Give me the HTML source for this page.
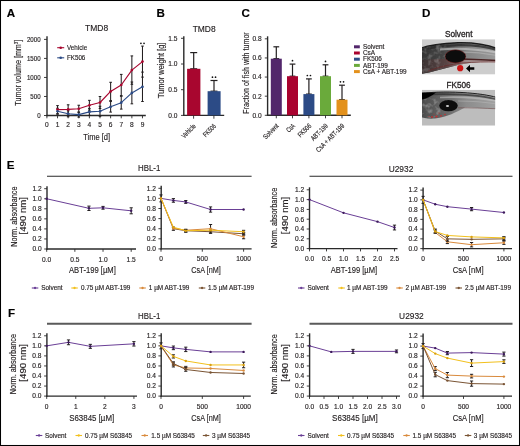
<!DOCTYPE html>
<html><head><meta charset="utf-8"><style>
html,body{margin:0;padding:0;background:#fff;}
body{width:520px;height:446px;overflow:hidden;}
svg{display:block;will-change:transform;}
text{font-family:"Liberation Sans", sans-serif;stroke:currentColor;stroke-width:0.15px;}
</style></head><body>
<svg width="520" height="446" viewBox="0 0 520 446">
<rect x="0" y="0" width="520" height="446" fill="#fff"/>
<text x="0" y="0.00" transform="translate(6.80 16.70)" font-size="11.6" text-anchor="start" fill="#000" color="#000" font-weight="bold">A</text>
<text x="0" y="0.00" transform="translate(156.40 16.80)" font-size="11.6" text-anchor="start" fill="#000" color="#000" font-weight="bold">B</text>
<text x="0" y="0.00" transform="translate(241.60 16.60)" font-size="11.6" text-anchor="start" fill="#000" color="#000" font-weight="bold">C</text>
<text x="0" y="0.00" transform="translate(422.10 16.80)" font-size="11.6" text-anchor="start" fill="#000" color="#000" font-weight="bold">D</text>
<text x="0" y="0.00" transform="translate(6.80 168.80)" font-size="11.6" text-anchor="start" fill="#000" color="#000" font-weight="bold">E</text>
<text x="0" y="0.00" transform="translate(8.00 316.80)" font-size="11.6" text-anchor="start" fill="#000" color="#000" font-weight="bold">F</text>
<text x="0" y="3.22" transform="translate(96.60 28.25)" font-size="9" text-anchor="middle" fill="#231f20" color="#231f20" textLength="23.10" lengthAdjust="spacingAndGlyphs">TMD8</text>
<line x1="47.00" y1="36.30" x2="47.00" y2="116.20" stroke="#2a2a2a" stroke-width="1.4"/>
<line x1="46.30" y1="115.50" x2="145.80" y2="115.50" stroke="#2a2a2a" stroke-width="1.4"/>
<line x1="44.00" y1="115.50" x2="47.00" y2="115.50" stroke="#2a2a2a" stroke-width="0.9"/>
<text x="0" y="2.36" transform="translate(40.60 115.50) scale(0.93 1)" font-size="6.6" text-anchor="end" fill="#231f20" color="#231f20">0</text>
<line x1="44.00" y1="96.47" x2="47.00" y2="96.47" stroke="#2a2a2a" stroke-width="0.9"/>
<text x="0" y="2.36" transform="translate(40.60 96.47) scale(0.93 1)" font-size="6.6" text-anchor="end" fill="#231f20" color="#231f20">500</text>
<line x1="44.00" y1="77.45" x2="47.00" y2="77.45" stroke="#2a2a2a" stroke-width="0.9"/>
<text x="0" y="2.36" transform="translate(40.60 77.45) scale(0.93 1)" font-size="6.6" text-anchor="end" fill="#231f20" color="#231f20">1000</text>
<line x1="44.00" y1="58.42" x2="47.00" y2="58.42" stroke="#2a2a2a" stroke-width="0.9"/>
<text x="0" y="2.36" transform="translate(40.60 58.42) scale(0.93 1)" font-size="6.6" text-anchor="end" fill="#231f20" color="#231f20">1500</text>
<line x1="44.00" y1="39.40" x2="47.00" y2="39.40" stroke="#2a2a2a" stroke-width="0.9"/>
<text x="0" y="2.36" transform="translate(40.60 39.40) scale(0.93 1)" font-size="6.6" text-anchor="end" fill="#231f20" color="#231f20">2000</text>
<line x1="46.90" y1="115.50" x2="46.90" y2="118.30" stroke="#2a2a2a" stroke-width="0.9"/>
<text x="0" y="2.36" transform="translate(46.90 124.60)" font-size="6.6" text-anchor="middle" fill="#231f20" color="#231f20">0</text>
<line x1="57.52" y1="115.50" x2="57.52" y2="118.30" stroke="#2a2a2a" stroke-width="0.9"/>
<text x="0" y="2.36" transform="translate(57.52 124.60)" font-size="6.6" text-anchor="middle" fill="#231f20" color="#231f20">1</text>
<line x1="68.14" y1="115.50" x2="68.14" y2="118.30" stroke="#2a2a2a" stroke-width="0.9"/>
<text x="0" y="2.36" transform="translate(68.14 124.60)" font-size="6.6" text-anchor="middle" fill="#231f20" color="#231f20">2</text>
<line x1="78.76" y1="115.50" x2="78.76" y2="118.30" stroke="#2a2a2a" stroke-width="0.9"/>
<text x="0" y="2.36" transform="translate(78.76 124.60)" font-size="6.6" text-anchor="middle" fill="#231f20" color="#231f20">3</text>
<line x1="89.38" y1="115.50" x2="89.38" y2="118.30" stroke="#2a2a2a" stroke-width="0.9"/>
<text x="0" y="2.36" transform="translate(89.38 124.60)" font-size="6.6" text-anchor="middle" fill="#231f20" color="#231f20">4</text>
<line x1="100.00" y1="115.50" x2="100.00" y2="118.30" stroke="#2a2a2a" stroke-width="0.9"/>
<text x="0" y="2.36" transform="translate(100.00 124.60)" font-size="6.6" text-anchor="middle" fill="#231f20" color="#231f20">5</text>
<line x1="110.62" y1="115.50" x2="110.62" y2="118.30" stroke="#2a2a2a" stroke-width="0.9"/>
<text x="0" y="2.36" transform="translate(110.62 124.60)" font-size="6.6" text-anchor="middle" fill="#231f20" color="#231f20">6</text>
<line x1="121.24" y1="115.50" x2="121.24" y2="118.30" stroke="#2a2a2a" stroke-width="0.9"/>
<text x="0" y="2.36" transform="translate(121.24 124.60)" font-size="6.6" text-anchor="middle" fill="#231f20" color="#231f20">7</text>
<line x1="131.86" y1="115.50" x2="131.86" y2="118.30" stroke="#2a2a2a" stroke-width="0.9"/>
<text x="0" y="2.36" transform="translate(131.86 124.60)" font-size="6.6" text-anchor="middle" fill="#231f20" color="#231f20">8</text>
<line x1="142.48" y1="115.50" x2="142.48" y2="118.30" stroke="#2a2a2a" stroke-width="0.9"/>
<text x="0" y="2.36" transform="translate(142.48 124.60)" font-size="6.6" text-anchor="middle" fill="#231f20" color="#231f20">9</text>
<text x="0" y="0.00" transform="translate(96.65 139.60)" font-size="9" text-anchor="middle" fill="#231f20" color="#231f20" textLength="26.90" lengthAdjust="spacingAndGlyphs">Time [d]</text>
<text x="0" y="0.00" transform="translate(21.40 72.70) rotate(-90) scale(0.8 1)" font-size="9" text-anchor="middle" fill="#231f20" color="#231f20">Tumor volume [mm<tspan font-size="5.5" dy="-3.2">3</tspan><tspan dy="3.2">]</tspan></text>
<line x1="57.52" y1="105.60" x2="57.52" y2="113.60" stroke="#231f20" stroke-width="1.05"/>
<line x1="56.22" y1="105.60" x2="58.82" y2="105.60" stroke="#231f20" stroke-width="1.05"/>
<line x1="56.22" y1="113.60" x2="58.82" y2="113.60" stroke="#231f20" stroke-width="1.05"/>
<line x1="68.14" y1="104.80" x2="68.14" y2="114.00" stroke="#231f20" stroke-width="1.05"/>
<line x1="66.84" y1="104.80" x2="69.44" y2="104.80" stroke="#231f20" stroke-width="1.05"/>
<line x1="66.84" y1="114.00" x2="69.44" y2="114.00" stroke="#231f20" stroke-width="1.05"/>
<line x1="78.76" y1="105.25" x2="78.76" y2="112.25" stroke="#231f20" stroke-width="1.05"/>
<line x1="77.46" y1="105.25" x2="80.06" y2="105.25" stroke="#231f20" stroke-width="1.05"/>
<line x1="77.46" y1="112.25" x2="80.06" y2="112.25" stroke="#231f20" stroke-width="1.05"/>
<line x1="89.38" y1="100.35" x2="89.38" y2="110.15" stroke="#231f20" stroke-width="1.05"/>
<line x1="88.08" y1="100.35" x2="90.68" y2="100.35" stroke="#231f20" stroke-width="1.05"/>
<line x1="88.08" y1="110.15" x2="90.68" y2="110.15" stroke="#231f20" stroke-width="1.05"/>
<line x1="100.00" y1="96.50" x2="100.00" y2="108.50" stroke="#231f20" stroke-width="1.05"/>
<line x1="98.70" y1="96.50" x2="101.30" y2="96.50" stroke="#231f20" stroke-width="1.05"/>
<line x1="98.70" y1="108.50" x2="101.30" y2="108.50" stroke="#231f20" stroke-width="1.05"/>
<line x1="110.62" y1="82.30" x2="110.62" y2="100.50" stroke="#231f20" stroke-width="1.05"/>
<line x1="109.32" y1="82.30" x2="111.92" y2="82.30" stroke="#231f20" stroke-width="1.05"/>
<line x1="109.32" y1="100.50" x2="111.92" y2="100.50" stroke="#231f20" stroke-width="1.05"/>
<line x1="121.24" y1="74.40" x2="121.24" y2="95.60" stroke="#231f20" stroke-width="1.05"/>
<line x1="119.94" y1="74.40" x2="122.54" y2="74.40" stroke="#231f20" stroke-width="1.05"/>
<line x1="119.94" y1="95.60" x2="122.54" y2="95.60" stroke="#231f20" stroke-width="1.05"/>
<line x1="131.86" y1="55.90" x2="131.86" y2="84.30" stroke="#231f20" stroke-width="1.05"/>
<line x1="130.56" y1="55.90" x2="133.16" y2="55.90" stroke="#231f20" stroke-width="1.05"/>
<line x1="130.56" y1="84.30" x2="133.16" y2="84.30" stroke="#231f20" stroke-width="1.05"/>
<line x1="142.48" y1="46.10" x2="142.48" y2="77.10" stroke="#231f20" stroke-width="1.05"/>
<line x1="141.18" y1="46.10" x2="143.78" y2="46.10" stroke="#231f20" stroke-width="1.05"/>
<line x1="141.18" y1="77.10" x2="143.78" y2="77.10" stroke="#231f20" stroke-width="1.05"/>
<line x1="57.52" y1="108.25" x2="57.52" y2="114.25" stroke="#231f20" stroke-width="1.05"/>
<line x1="56.22" y1="108.25" x2="58.82" y2="108.25" stroke="#231f20" stroke-width="1.05"/>
<line x1="56.22" y1="114.25" x2="58.82" y2="114.25" stroke="#231f20" stroke-width="1.05"/>
<line x1="68.14" y1="110.75" x2="68.14" y2="116.75" stroke="#231f20" stroke-width="1.05"/>
<line x1="66.84" y1="110.75" x2="69.44" y2="110.75" stroke="#231f20" stroke-width="1.05"/>
<line x1="66.84" y1="116.75" x2="69.44" y2="116.75" stroke="#231f20" stroke-width="1.05"/>
<line x1="78.76" y1="112.10" x2="78.76" y2="117.10" stroke="#231f20" stroke-width="1.05"/>
<line x1="77.46" y1="112.10" x2="80.06" y2="112.10" stroke="#231f20" stroke-width="1.05"/>
<line x1="77.46" y1="117.10" x2="80.06" y2="117.10" stroke="#231f20" stroke-width="1.05"/>
<line x1="89.38" y1="108.40" x2="89.38" y2="115.40" stroke="#231f20" stroke-width="1.05"/>
<line x1="88.08" y1="108.40" x2="90.68" y2="108.40" stroke="#231f20" stroke-width="1.05"/>
<line x1="88.08" y1="115.40" x2="90.68" y2="115.40" stroke="#231f20" stroke-width="1.05"/>
<line x1="100.00" y1="106.25" x2="100.00" y2="116.25" stroke="#231f20" stroke-width="1.05"/>
<line x1="98.70" y1="106.25" x2="101.30" y2="106.25" stroke="#231f20" stroke-width="1.05"/>
<line x1="98.70" y1="116.25" x2="101.30" y2="116.25" stroke="#231f20" stroke-width="1.05"/>
<line x1="110.62" y1="101.50" x2="110.62" y2="112.10" stroke="#231f20" stroke-width="1.05"/>
<line x1="109.32" y1="101.50" x2="111.92" y2="101.50" stroke="#231f20" stroke-width="1.05"/>
<line x1="109.32" y1="112.10" x2="111.92" y2="112.10" stroke="#231f20" stroke-width="1.05"/>
<line x1="121.24" y1="96.30" x2="121.24" y2="109.10" stroke="#231f20" stroke-width="1.05"/>
<line x1="119.94" y1="96.30" x2="122.54" y2="96.30" stroke="#231f20" stroke-width="1.05"/>
<line x1="119.94" y1="109.10" x2="122.54" y2="109.10" stroke="#231f20" stroke-width="1.05"/>
<line x1="131.86" y1="82.00" x2="131.86" y2="103.80" stroke="#231f20" stroke-width="1.05"/>
<line x1="130.56" y1="82.00" x2="133.16" y2="82.00" stroke="#231f20" stroke-width="1.05"/>
<line x1="130.56" y1="103.80" x2="133.16" y2="103.80" stroke="#231f20" stroke-width="1.05"/>
<line x1="142.48" y1="72.10" x2="142.48" y2="101.50" stroke="#231f20" stroke-width="1.05"/>
<line x1="141.18" y1="72.10" x2="143.78" y2="72.10" stroke="#231f20" stroke-width="1.05"/>
<line x1="141.18" y1="101.50" x2="143.78" y2="101.50" stroke="#231f20" stroke-width="1.05"/>
<polyline points="57.52,109.60 68.14,109.40 78.76,108.75 89.38,105.25 100.00,102.50 110.62,91.40 121.24,85.00 131.86,70.10 142.48,61.60" fill="none" stroke="#a8062f" stroke-width="1.15" stroke-linejoin="round"/>
<polyline points="57.52,111.25 68.14,113.75 78.76,114.60 89.38,111.90 100.00,111.25 110.62,106.80 121.24,102.70 131.86,92.90 142.48,86.80" fill="none" stroke="#2c4b86" stroke-width="1.15" stroke-linejoin="round"/>
<circle cx="57.52" cy="109.60" r="1.35" fill="#a8062f"/>
<circle cx="68.14" cy="109.40" r="1.35" fill="#a8062f"/>
<circle cx="78.76" cy="108.75" r="1.35" fill="#a8062f"/>
<circle cx="89.38" cy="105.25" r="1.35" fill="#a8062f"/>
<circle cx="100.00" cy="102.50" r="1.35" fill="#a8062f"/>
<circle cx="110.62" cy="91.40" r="1.35" fill="#a8062f"/>
<circle cx="121.24" cy="85.00" r="1.35" fill="#a8062f"/>
<circle cx="131.86" cy="70.10" r="1.35" fill="#a8062f"/>
<circle cx="142.48" cy="61.60" r="1.35" fill="#a8062f"/>
<circle cx="57.52" cy="111.25" r="1.35" fill="#2c4b86"/>
<circle cx="68.14" cy="113.75" r="1.35" fill="#2c4b86"/>
<circle cx="78.76" cy="114.60" r="1.35" fill="#2c4b86"/>
<circle cx="89.38" cy="111.90" r="1.35" fill="#2c4b86"/>
<circle cx="100.00" cy="111.25" r="1.35" fill="#2c4b86"/>
<circle cx="110.62" cy="106.80" r="1.35" fill="#2c4b86"/>
<circle cx="121.24" cy="102.70" r="1.35" fill="#2c4b86"/>
<circle cx="131.86" cy="92.90" r="1.35" fill="#2c4b86"/>
<circle cx="142.48" cy="86.80" r="1.35" fill="#2c4b86"/>
<circle cx="140.93" cy="43.30" r="0.85" fill="#111"/>
<circle cx="144.03" cy="43.30" r="0.85" fill="#111"/>
<line x1="57.20" y1="47.70" x2="64.20" y2="47.70" stroke="#a8062f" stroke-width="1.1"/>
<circle cx="60.70" cy="47.70" r="1.3" fill="#a8062f"/>
<line x1="57.20" y1="57.80" x2="64.20" y2="57.80" stroke="#2c4b86" stroke-width="1.1"/>
<circle cx="60.70" cy="57.80" r="1.3" fill="#2c4b86"/>
<text x="0" y="2.40" transform="translate(67.00 47.40)" font-size="6.7" text-anchor="start" fill="#231f20" color="#231f20" textLength="20.20" lengthAdjust="spacingAndGlyphs">Vehicle</text>
<text x="0" y="2.40" transform="translate(67.00 57.70)" font-size="6.7" text-anchor="start" fill="#231f20" color="#231f20" textLength="18.30" lengthAdjust="spacingAndGlyphs">FK506</text>
<text x="0" y="3.22" transform="translate(204.10 28.30)" font-size="9" text-anchor="middle" fill="#231f20" color="#231f20" textLength="22.90" lengthAdjust="spacingAndGlyphs">TMD8</text>
<line x1="183.80" y1="36.30" x2="183.80" y2="116.10" stroke="#2a2a2a" stroke-width="1.4"/>
<line x1="183.10" y1="115.40" x2="224.20" y2="115.40" stroke="#2a2a2a" stroke-width="1.4"/>
<line x1="181.00" y1="115.40" x2="183.80" y2="115.40" stroke="#2a2a2a" stroke-width="0.9"/>
<text x="0" y="2.36" transform="translate(177.40 115.40)" font-size="6.6" text-anchor="end" fill="#231f20" color="#231f20">0.0</text>
<line x1="181.00" y1="89.70" x2="183.80" y2="89.70" stroke="#2a2a2a" stroke-width="0.9"/>
<text x="0" y="2.36" transform="translate(177.40 89.70)" font-size="6.6" text-anchor="end" fill="#231f20" color="#231f20">0.5</text>
<line x1="181.00" y1="64.00" x2="183.80" y2="64.00" stroke="#2a2a2a" stroke-width="0.9"/>
<text x="0" y="2.36" transform="translate(177.40 64.00)" font-size="6.6" text-anchor="end" fill="#231f20" color="#231f20">1.0</text>
<line x1="181.00" y1="38.30" x2="183.80" y2="38.30" stroke="#2a2a2a" stroke-width="0.9"/>
<text x="0" y="2.36" transform="translate(177.40 38.30)" font-size="6.6" text-anchor="end" fill="#231f20" color="#231f20">1.5</text>
<line x1="193.70" y1="52.60" x2="193.70" y2="68.80" stroke="#231f20" stroke-width="1.2"/>
<line x1="190.20" y1="52.60" x2="197.20" y2="52.60" stroke="#231f20" stroke-width="1.2"/>
<line x1="190.20" y1="68.80" x2="197.20" y2="68.80" stroke="#231f20" stroke-width="1.2"/>
<line x1="214.00" y1="80.50" x2="214.00" y2="91.20" stroke="#231f20" stroke-width="1.2"/>
<line x1="210.50" y1="80.50" x2="217.50" y2="80.50" stroke="#231f20" stroke-width="1.2"/>
<line x1="210.50" y1="91.20" x2="217.50" y2="91.20" stroke="#231f20" stroke-width="1.2"/>
<rect x="187.10" y="68.80" width="13.30" height="46.60" fill="#a8062f"/>
<rect x="207.60" y="91.20" width="13.00" height="24.20" fill="#2c4b86"/>
<line x1="193.60" y1="115.40" x2="193.60" y2="118.70" stroke="#2a2a2a" stroke-width="0.9"/>
<line x1="213.90" y1="115.40" x2="213.90" y2="118.70" stroke="#2a2a2a" stroke-width="0.9"/>
<circle cx="212.45" cy="77.20" r="0.85" fill="#111"/>
<circle cx="215.55" cy="77.20" r="0.85" fill="#111"/>
<text x="0" y="0.00" transform="translate(164.30 70.40) rotate(-90)" font-size="9" text-anchor="middle" fill="#231f20" color="#231f20" textLength="55.60" lengthAdjust="spacingAndGlyphs">Tumor weight [g]</text>
<text x="0" y="0.00" transform="translate(196.30 126.70) rotate(-45)" font-size="7.0" text-anchor="end" fill="#231f20" color="#231f20" textLength="17.00" lengthAdjust="spacingAndGlyphs">Vehicle</text>
<text x="0" y="0.00" transform="translate(216.60 126.70) rotate(-45)" font-size="7.0" text-anchor="end" fill="#231f20" color="#231f20" textLength="15.20" lengthAdjust="spacingAndGlyphs">FK506</text>
<line x1="267.60" y1="36.30" x2="267.60" y2="116.00" stroke="#2a2a2a" stroke-width="1.4"/>
<line x1="266.90" y1="115.30" x2="350.80" y2="115.30" stroke="#2a2a2a" stroke-width="1.4"/>
<line x1="264.80" y1="115.30" x2="267.60" y2="115.30" stroke="#2a2a2a" stroke-width="0.9"/>
<text x="0" y="2.36" transform="translate(261.60 115.30)" font-size="6.6" text-anchor="end" fill="#231f20" color="#231f20">0.0</text>
<line x1="264.80" y1="96.18" x2="267.60" y2="96.18" stroke="#2a2a2a" stroke-width="0.9"/>
<text x="0" y="2.36" transform="translate(261.60 96.18)" font-size="6.6" text-anchor="end" fill="#231f20" color="#231f20">0.2</text>
<line x1="264.80" y1="77.06" x2="267.60" y2="77.06" stroke="#2a2a2a" stroke-width="0.9"/>
<text x="0" y="2.36" transform="translate(261.60 77.06)" font-size="6.6" text-anchor="end" fill="#231f20" color="#231f20">0.4</text>
<line x1="264.80" y1="57.94" x2="267.60" y2="57.94" stroke="#2a2a2a" stroke-width="0.9"/>
<text x="0" y="2.36" transform="translate(261.60 57.94)" font-size="6.6" text-anchor="end" fill="#231f20" color="#231f20">0.6</text>
<line x1="264.80" y1="38.82" x2="267.60" y2="38.82" stroke="#2a2a2a" stroke-width="0.9"/>
<text x="0" y="2.36" transform="translate(261.60 38.82)" font-size="6.6" text-anchor="end" fill="#231f20" color="#231f20">0.8</text>
<line x1="276.30" y1="46.80" x2="276.30" y2="58.70" stroke="#231f20" stroke-width="1.2"/>
<line x1="273.40" y1="46.80" x2="279.20" y2="46.80" stroke="#231f20" stroke-width="1.2"/>
<line x1="273.40" y1="58.70" x2="279.20" y2="58.70" stroke="#231f20" stroke-width="1.2"/>
<rect x="270.80" y="58.70" width="11.00" height="56.60" fill="#52266b"/>
<line x1="276.30" y1="115.30" x2="276.30" y2="118.30" stroke="#2a2a2a" stroke-width="0.9"/>
<text x="0" y="0.00" transform="translate(279.20 126.40) rotate(-45)" font-size="7.0" text-anchor="end" fill="#231f20" color="#231f20" textLength="19.00" lengthAdjust="spacingAndGlyphs">Solvent</text>
<line x1="292.50" y1="64.10" x2="292.50" y2="76.20" stroke="#231f20" stroke-width="1.2"/>
<line x1="289.60" y1="64.10" x2="295.40" y2="64.10" stroke="#231f20" stroke-width="1.2"/>
<line x1="289.60" y1="76.20" x2="295.40" y2="76.20" stroke="#231f20" stroke-width="1.2"/>
<rect x="287.00" y="76.20" width="11.00" height="39.10" fill="#a9032f"/>
<line x1="292.50" y1="115.30" x2="292.50" y2="118.30" stroke="#2a2a2a" stroke-width="0.9"/>
<circle cx="292.50" cy="60.70" r="0.85" fill="#111"/>
<text x="0" y="0.00" transform="translate(295.40 126.40) rotate(-45)" font-size="7.0" text-anchor="end" fill="#231f20" color="#231f20" textLength="9.10" lengthAdjust="spacingAndGlyphs">CsA</text>
<line x1="308.90" y1="78.90" x2="308.90" y2="94.10" stroke="#231f20" stroke-width="1.2"/>
<line x1="306.00" y1="78.90" x2="311.80" y2="78.90" stroke="#231f20" stroke-width="1.2"/>
<line x1="306.00" y1="94.10" x2="311.80" y2="94.10" stroke="#231f20" stroke-width="1.2"/>
<rect x="303.40" y="94.10" width="11.00" height="21.20" fill="#2c4b86"/>
<line x1="308.90" y1="115.30" x2="308.90" y2="118.30" stroke="#2a2a2a" stroke-width="0.9"/>
<circle cx="307.35" cy="75.50" r="0.85" fill="#111"/>
<circle cx="310.45" cy="75.50" r="0.85" fill="#111"/>
<text x="0" y="0.00" transform="translate(311.80 126.40) rotate(-45)" font-size="7.0" text-anchor="end" fill="#231f20" color="#231f20" textLength="16.00" lengthAdjust="spacingAndGlyphs">FK506</text>
<line x1="325.50" y1="64.80" x2="325.50" y2="76.20" stroke="#231f20" stroke-width="1.2"/>
<line x1="322.60" y1="64.80" x2="328.40" y2="64.80" stroke="#231f20" stroke-width="1.2"/>
<line x1="322.60" y1="76.20" x2="328.40" y2="76.20" stroke="#231f20" stroke-width="1.2"/>
<rect x="320.00" y="76.20" width="11.00" height="39.10" fill="#6aaa3b"/>
<line x1="325.50" y1="115.30" x2="325.50" y2="118.30" stroke="#2a2a2a" stroke-width="0.9"/>
<circle cx="325.50" cy="61.40" r="0.85" fill="#111"/>
<text x="0" y="0.00" transform="translate(328.40 126.40) rotate(-45)" font-size="7.0" text-anchor="end" fill="#231f20" color="#231f20" textLength="21.00" lengthAdjust="spacingAndGlyphs">ABT-199</text>
<line x1="342.00" y1="85.20" x2="342.00" y2="99.70" stroke="#231f20" stroke-width="1.2"/>
<line x1="339.10" y1="85.20" x2="344.90" y2="85.20" stroke="#231f20" stroke-width="1.2"/>
<line x1="339.10" y1="99.70" x2="344.90" y2="99.70" stroke="#231f20" stroke-width="1.2"/>
<rect x="336.50" y="99.70" width="11.00" height="15.60" fill="#e3911c"/>
<line x1="342.00" y1="115.30" x2="342.00" y2="118.30" stroke="#2a2a2a" stroke-width="0.9"/>
<circle cx="340.45" cy="81.80" r="0.85" fill="#111"/>
<circle cx="343.55" cy="81.80" r="0.85" fill="#111"/>
<text x="0" y="0.00" transform="translate(344.90 126.40) rotate(-45)" font-size="7.0" text-anchor="end" fill="#231f20" color="#231f20" textLength="37.10" lengthAdjust="spacingAndGlyphs">CsA + ABT-199</text>
<text x="0" y="0.00" transform="translate(248.80 73.00) rotate(-90)" font-size="9" text-anchor="middle" fill="#231f20" color="#231f20" textLength="81.40" lengthAdjust="spacingAndGlyphs">Fraction of fish with tumor</text>
<rect x="354.00" y="45.30" width="5.80" height="3.00" fill="#52266b"/>
<text x="0" y="2.29" transform="translate(363.00 46.80)" font-size="6.4" text-anchor="start" fill="#231f20" color="#231f20">Solvent</text>
<rect x="354.00" y="51.50" width="5.80" height="3.00" fill="#a9032f"/>
<text x="0" y="2.29" transform="translate(363.00 53.00)" font-size="6.4" text-anchor="start" fill="#231f20" color="#231f20">CsA</text>
<rect x="354.00" y="57.70" width="5.80" height="3.00" fill="#2c4b86"/>
<text x="0" y="2.29" transform="translate(363.00 59.20)" font-size="6.4" text-anchor="start" fill="#231f20" color="#231f20">FK506</text>
<rect x="354.00" y="63.90" width="5.80" height="3.00" fill="#6aaa3b"/>
<text x="0" y="2.29" transform="translate(363.00 65.40)" font-size="6.4" text-anchor="start" fill="#231f20" color="#231f20">ABT-199</text>
<rect x="354.00" y="70.10" width="5.80" height="3.00" fill="#e3911c"/>
<text x="0" y="2.29" transform="translate(363.00 71.60)" font-size="6.4" text-anchor="start" fill="#231f20" color="#231f20">CsA + ABT-199</text>
<text x="0" y="2.97" transform="translate(458.70 34.10)" font-size="8.3" text-anchor="middle" fill="#231f20" color="#231f20" textLength="27.60" lengthAdjust="spacingAndGlyphs" style="stroke-width:0.3px">Solvent</text>
<text x="0" y="2.94" transform="translate(458.50 84.60)" font-size="8.2" text-anchor="middle" fill="#231f20" color="#231f20" textLength="24.10" lengthAdjust="spacingAndGlyphs" style="stroke-width:0.3px">FK506</text>
<defs>
<filter id="bl1" x="-20%" y="-20%" width="140%" height="140%"><feGaussianBlur stdDeviation="0.6"/></filter>
<filter id="bl2" x="-20%" y="-20%" width="140%" height="140%"><feGaussianBlur stdDeviation="1.0"/></filter>
<filter id="noise" x="0" y="0" width="100%" height="100%">
<feTurbulence type="fractalNoise" baseFrequency="0.22" numOctaves="2" seed="5" result="t"/>
<feColorMatrix in="t" type="matrix" values="0 0 0 0 0.62  0 0 0 0 0.62  0 0 0 0 0.62  0 0 0 2.2 -1.0" result="n"/>
<feGaussianBlur in="n" stdDeviation="0.5" result="nb"/>
<feComposite in="nb" in2="SourceGraphic" operator="in"/>
</filter>
<linearGradient id="fb1" x1="0" y1="0" x2="1" y2="0">
<stop offset="0" stop-color="#333"/><stop offset="0.3" stop-color="#444"/><stop offset="0.6" stop-color="#828282"/><stop offset="1" stop-color="#9c9c9c"/>
</linearGradient>
<linearGradient id="fb2" x1="0" y1="0" x2="1" y2="0"><stop offset="0" stop-color="#4a4a4a"/><stop offset="0.35" stop-color="#6a6a6a"/><stop offset="0.6" stop-color="#8c8c8c"/><stop offset="1" stop-color="#a2a2a2"/></linearGradient>
<linearGradient id="belly" x1="0" y1="0" x2="1" y2="0">
<stop offset="0" stop-color="#383030"/><stop offset="0.35" stop-color="#5a4444"/><stop offset="0.6" stop-color="#a08a8a"/><stop offset="1" stop-color="#bcaeae"/>
</linearGradient>
<clipPath id="c1"><rect x="422" y="39.2" width="73.2" height="35.4"/></clipPath>
<clipPath id="c2"><rect x="422" y="89.7" width="73.2" height="36"/></clipPath>
</defs>
<g clip-path="url(#c1)">
<rect x="422" y="39.2" width="73.2" height="35.4" fill="#cdcdcd"/>
<g filter="url(#bl1)">
<path d="M420,48.5 C428,45.5 440,43.5 458,42.8 C475,42.5 488,45 497,48.5 L497,62 C485,61 470,62 458,65 C445,68 432,72.5 420,74 Z" fill="url(#fb1)"/>
<path d="M420,60 C440,59 450,58.5 460,59 C475,59.5 486,60 497,60.5 L497,62 C485,61 470,62 458,65 C445,68 432,72.5 420,74 Z" fill="url(#belly)"/>
<path d="M420,48.5 C428,45.5 440,43.5 458,42.8 C475,42.5 488,45 497,48.5" fill="none" stroke="#1e1e1e" stroke-width="1.4"/>
<path d="M420,50.5 C430,47.5 440,46 458,45.2 C475,45 488,47 497,50" fill="none" stroke="#2a2a2a" stroke-width="2.2" opacity="0.8"/>
<path d="M440,49.5 C455,48 470,48 497,52.5" fill="none" stroke="#d0d0d0" stroke-width="1.8" opacity="0.6"/>
<path d="M452,52.5 C464,51.5 478,52 497,55.5" fill="none" stroke="#b8b8b8" stroke-width="1.2" opacity="0.6"/>
<path d="M446,58.5 C462,59 478,59.5 497,60.5" fill="none" stroke="#4a2222" stroke-width="1.4"/>
<path d="M428,71 C440,66.5 450,64.5 462,63 C475,62 486,61.8 497,62" fill="none" stroke="#6a2a2a" stroke-width="0.9" opacity="0.8"/>
</g>
<path d="M420,48.5 C428,45.5 438,44 446,44 C448,55 446,64 442,69 C435,71 428,73 420,74 Z" fill="#fff" filter="url(#noise)" opacity="0.4"/>
<ellipse cx="455.5" cy="56.4" rx="10.6" ry="6.9" fill="#5a1010" filter="url(#bl1)" opacity="0.7"/>
<ellipse cx="455.5" cy="56.4" rx="9.9" ry="6.2" fill="#080808" filter="url(#bl1)"/>
<circle cx="460.2" cy="68.2" r="3.1" fill="#cc1616" filter="url(#bl1)"/>
<path d="M466,68.5 L470,64.8 L470,67.2 L474.3,67.2 L474.3,69.8 L470,69.8 L470,72.2 Z" fill="#000"/>
</g>
<g clip-path="url(#c2)">
<rect x="422" y="89.7" width="73.2" height="36" fill="#bdbdbd"/>
<g filter="url(#bl1)">
<path d="M420,94 C430,92 445,91.5 462,92.5 C478,93.5 488,95 497,97.5 L497,109 C485,108.5 472,107 465,107.5 C456,112 448,117 435,118.5 C428,119 423,118 420,117 Z" fill="url(#fb2)"/>
<path d="M420,94 C430,92 445,91.5 462,92.5 C478,93.5 488,95 497,97.5" fill="none" stroke="#222" stroke-width="1.0"/>
<path d="M420,95.5 C430,94 445,93.8 462,94.6 C478,95.5 488,97 497,99.5" fill="none" stroke="#2e2e2e" stroke-width="1.8" opacity="0.7"/>
<path d="M440,97.5 C460,96.5 480,98 497,101" fill="none" stroke="#c8c8c8" stroke-width="1.6" opacity="0.55"/>
<path d="M458,101 C472,101 485,102 497,104" fill="none" stroke="#b8b8b8" stroke-width="1.1" opacity="0.55"/>
<path d="M420,92.5 L436,92.5 C432,96 426,99 420,100 Z" fill="#050505"/>
<path d="M458,107.8 C470,107.8 485,108.2 497,108.8" fill="none" stroke="#6a3a3a" stroke-width="0.8" opacity="0.6"/>
</g>
<path d="M420,100 L436,97 C440,104 441,110 440,116 C432,118.5 425,118 420,117 Z" fill="#fff" filter="url(#noise)" opacity="0.55"/>
<ellipse cx="448.5" cy="105.7" rx="9.2" ry="5.6" fill="#0a0a0a" filter="url(#bl1)"/>
<ellipse cx="447.5" cy="106" rx="1.6" ry="0.9" fill="#ccc" filter="url(#bl1)"/>
<g filter="url(#bl1)" fill="#e02020" opacity="0.75">
<circle cx="432" cy="117" r="0.9"/><circle cx="436.5" cy="116.5" r="1.1"/><circle cx="441" cy="115.8" r="0.9"/><circle cx="445" cy="114.5" r="0.8"/><circle cx="429" cy="116.5" r="0.6"/><circle cx="439" cy="113" r="0.6"/><circle cx="434" cy="114" r="0.5"/>
</g>
</g>

<text x="0" y="3.19" transform="translate(149.10 168.10)" font-size="8.9" text-anchor="middle" fill="#231f20" color="#231f20" textLength="22.30" lengthAdjust="spacingAndGlyphs">HBL-1</text>
<text x="0" y="3.19" transform="translate(401.00 168.30)" font-size="8.9" text-anchor="middle" fill="#231f20" color="#231f20" textLength="24.60" lengthAdjust="spacingAndGlyphs">U2932</text>
<line x1="47.00" y1="176.20" x2="251.60" y2="176.20" stroke="#2a2a2a" stroke-width="1.1"/>
<line x1="309.50" y1="176.20" x2="512.50" y2="176.20" stroke="#2a2a2a" stroke-width="1.1"/>
<text x="0" y="0.00" transform="translate(16.80 216.60) rotate(-90)" font-size="8.2" text-anchor="middle" fill="#231f20" color="#231f20" textLength="60.20" lengthAdjust="spacingAndGlyphs">Norm. absorbance</text>
<text x="0" y="0.00" transform="translate(26.30 215.70) rotate(-90)" font-size="8.2" text-anchor="middle" fill="#231f20" color="#231f20" textLength="37.50" lengthAdjust="spacingAndGlyphs">[490 nm]</text>
<text x="0" y="0.00" transform="translate(277.40 217.90) rotate(-90)" font-size="8.2" text-anchor="middle" fill="#231f20" color="#231f20" textLength="60.20" lengthAdjust="spacingAndGlyphs">Norm. absorbance</text>
<text x="0" y="0.00" transform="translate(287.60 215.50) rotate(-90)" font-size="8.2" text-anchor="middle" fill="#231f20" color="#231f20" textLength="37.50" lengthAdjust="spacingAndGlyphs">[490 nm]</text>
<line x1="47.00" y1="186.20" x2="47.00" y2="249.70" stroke="#2a2a2a" stroke-width="1.4"/>
<line x1="46.30" y1="249.00" x2="136.00" y2="249.00" stroke="#2a2a2a" stroke-width="1.4"/>
<line x1="44.20" y1="249.00" x2="47.00" y2="249.00" stroke="#2a2a2a" stroke-width="0.9"/>
<text x="0" y="2.36" transform="translate(41.60 249.00)" font-size="6.6" text-anchor="end" fill="#231f20" color="#231f20">0.0</text>
<line x1="44.20" y1="238.95" x2="47.00" y2="238.95" stroke="#2a2a2a" stroke-width="0.9"/>
<text x="0" y="2.36" transform="translate(41.60 238.95)" font-size="6.6" text-anchor="end" fill="#231f20" color="#231f20">0.2</text>
<line x1="44.20" y1="228.90" x2="47.00" y2="228.90" stroke="#2a2a2a" stroke-width="0.9"/>
<text x="0" y="2.36" transform="translate(41.60 228.90)" font-size="6.6" text-anchor="end" fill="#231f20" color="#231f20">0.4</text>
<line x1="44.20" y1="218.85" x2="47.00" y2="218.85" stroke="#2a2a2a" stroke-width="0.9"/>
<text x="0" y="2.36" transform="translate(41.60 218.85)" font-size="6.6" text-anchor="end" fill="#231f20" color="#231f20">0.6</text>
<line x1="44.20" y1="208.80" x2="47.00" y2="208.80" stroke="#2a2a2a" stroke-width="0.9"/>
<text x="0" y="2.36" transform="translate(41.60 208.80)" font-size="6.6" text-anchor="end" fill="#231f20" color="#231f20">0.8</text>
<line x1="44.20" y1="198.75" x2="47.00" y2="198.75" stroke="#2a2a2a" stroke-width="0.9"/>
<text x="0" y="2.36" transform="translate(41.60 198.75)" font-size="6.6" text-anchor="end" fill="#231f20" color="#231f20">1.0</text>
<line x1="44.20" y1="188.70" x2="47.00" y2="188.70" stroke="#2a2a2a" stroke-width="0.9"/>
<text x="0" y="2.36" transform="translate(41.60 188.70)" font-size="6.6" text-anchor="end" fill="#231f20" color="#231f20">1.2</text>
<line x1="46.70" y1="249.00" x2="46.70" y2="251.80" stroke="#2a2a2a" stroke-width="0.9"/>
<text x="0" y="2.36" transform="translate(46.70 259.20)" font-size="6.6" text-anchor="middle" fill="#231f20" color="#231f20">0.0</text>
<line x1="74.87" y1="249.00" x2="74.87" y2="251.80" stroke="#2a2a2a" stroke-width="0.9"/>
<text x="0" y="2.36" transform="translate(74.87 259.20)" font-size="6.6" text-anchor="middle" fill="#231f20" color="#231f20">0.5</text>
<line x1="103.03" y1="249.00" x2="103.03" y2="251.80" stroke="#2a2a2a" stroke-width="0.9"/>
<text x="0" y="2.36" transform="translate(103.03 259.20)" font-size="6.6" text-anchor="middle" fill="#231f20" color="#231f20">1.0</text>
<line x1="131.19" y1="249.00" x2="131.19" y2="251.80" stroke="#2a2a2a" stroke-width="0.9"/>
<text x="0" y="2.36" transform="translate(131.19 259.20)" font-size="6.6" text-anchor="middle" fill="#231f20" color="#231f20">1.5</text>
<text x="0" y="3.44" transform="translate(92.40 269.80)" font-size="9.6" text-anchor="middle" fill="#231f20" color="#231f20" textLength="46.80" lengthAdjust="spacingAndGlyphs">ABT-199 [µM]</text>
<line x1="88.95" y1="206.10" x2="88.95" y2="210.50" stroke="#231f20" stroke-width="1.0"/>
<line x1="87.35" y1="206.10" x2="90.55" y2="206.10" stroke="#231f20" stroke-width="1.0"/>
<line x1="87.35" y1="210.50" x2="90.55" y2="210.50" stroke="#231f20" stroke-width="1.0"/>
<line x1="103.03" y1="206.40" x2="103.03" y2="209.20" stroke="#231f20" stroke-width="1.0"/>
<line x1="101.43" y1="206.40" x2="104.63" y2="206.40" stroke="#231f20" stroke-width="1.0"/>
<line x1="101.43" y1="209.20" x2="104.63" y2="209.20" stroke="#231f20" stroke-width="1.0"/>
<line x1="131.19" y1="207.81" x2="131.19" y2="213.81" stroke="#231f20" stroke-width="1.0"/>
<line x1="129.59" y1="207.81" x2="132.79" y2="207.81" stroke="#231f20" stroke-width="1.0"/>
<line x1="129.59" y1="213.81" x2="132.79" y2="213.81" stroke="#231f20" stroke-width="1.0"/>
<polyline points="46.70,198.75 88.95,208.30 103.03,207.80 131.19,210.81" fill="none" stroke="#6a3f96" stroke-width="1.0" stroke-linejoin="round"/>
<circle cx="46.70" cy="198.75" r="1.2" fill="#3d1a5c"/>
<circle cx="88.95" cy="208.30" r="1.2" fill="#3d1a5c"/>
<circle cx="103.03" cy="207.80" r="1.2" fill="#3d1a5c"/>
<circle cx="131.19" cy="210.81" r="1.2" fill="#3d1a5c"/>
<line x1="161.20" y1="185.80" x2="161.20" y2="249.60" stroke="#2a2a2a" stroke-width="1.4"/>
<line x1="160.50" y1="248.90" x2="251.60" y2="248.90" stroke="#2a2a2a" stroke-width="1.4"/>
<line x1="158.40" y1="248.90" x2="161.20" y2="248.90" stroke="#2a2a2a" stroke-width="0.9"/>
<text x="0" y="2.36" transform="translate(155.80 248.90)" font-size="6.6" text-anchor="end" fill="#231f20" color="#231f20">0.0</text>
<line x1="158.40" y1="238.80" x2="161.20" y2="238.80" stroke="#2a2a2a" stroke-width="0.9"/>
<text x="0" y="2.36" transform="translate(155.80 238.80)" font-size="6.6" text-anchor="end" fill="#231f20" color="#231f20">0.2</text>
<line x1="158.40" y1="228.70" x2="161.20" y2="228.70" stroke="#2a2a2a" stroke-width="0.9"/>
<text x="0" y="2.36" transform="translate(155.80 228.70)" font-size="6.6" text-anchor="end" fill="#231f20" color="#231f20">0.4</text>
<line x1="158.40" y1="218.60" x2="161.20" y2="218.60" stroke="#2a2a2a" stroke-width="0.9"/>
<text x="0" y="2.36" transform="translate(155.80 218.60)" font-size="6.6" text-anchor="end" fill="#231f20" color="#231f20">0.6</text>
<line x1="158.40" y1="208.50" x2="161.20" y2="208.50" stroke="#2a2a2a" stroke-width="0.9"/>
<text x="0" y="2.36" transform="translate(155.80 208.50)" font-size="6.6" text-anchor="end" fill="#231f20" color="#231f20">0.8</text>
<line x1="158.40" y1="198.40" x2="161.20" y2="198.40" stroke="#2a2a2a" stroke-width="0.9"/>
<text x="0" y="2.36" transform="translate(155.80 198.40)" font-size="6.6" text-anchor="end" fill="#231f20" color="#231f20">1.0</text>
<line x1="158.40" y1="188.30" x2="161.20" y2="188.30" stroke="#2a2a2a" stroke-width="0.9"/>
<text x="0" y="2.36" transform="translate(155.80 188.30)" font-size="6.6" text-anchor="end" fill="#231f20" color="#231f20">1.2</text>
<line x1="161.00" y1="248.90" x2="161.00" y2="251.70" stroke="#2a2a2a" stroke-width="0.9"/>
<text x="0" y="2.36" transform="translate(161.00 259.10)" font-size="6.6" text-anchor="middle" fill="#231f20" color="#231f20">0</text>
<line x1="202.30" y1="248.90" x2="202.30" y2="251.70" stroke="#2a2a2a" stroke-width="0.9"/>
<text x="0" y="2.36" transform="translate(202.30 259.10)" font-size="6.6" text-anchor="middle" fill="#231f20" color="#231f20">500</text>
<line x1="243.60" y1="248.90" x2="243.60" y2="251.70" stroke="#2a2a2a" stroke-width="0.9"/>
<text x="0" y="2.36" transform="translate(243.60 259.10)" font-size="6.6" text-anchor="middle" fill="#231f20" color="#231f20">1000</text>
<text x="0" y="3.44" transform="translate(206.10 269.70)" font-size="9.6" text-anchor="middle" fill="#231f20" color="#231f20" textLength="29.50" lengthAdjust="spacingAndGlyphs">CsA [nM]</text>
<line x1="173.39" y1="198.62" x2="173.39" y2="202.22" stroke="#231f20" stroke-width="1.0"/>
<line x1="171.79" y1="198.62" x2="174.99" y2="198.62" stroke="#231f20" stroke-width="1.0"/>
<line x1="171.79" y1="202.22" x2="174.99" y2="202.22" stroke="#231f20" stroke-width="1.0"/>
<line x1="185.78" y1="200.53" x2="185.78" y2="203.34" stroke="#231f20" stroke-width="1.0"/>
<line x1="184.18" y1="200.53" x2="187.38" y2="200.53" stroke="#231f20" stroke-width="1.0"/>
<line x1="184.18" y1="203.34" x2="187.38" y2="203.34" stroke="#231f20" stroke-width="1.0"/>
<line x1="210.56" y1="206.91" x2="210.56" y2="212.11" stroke="#231f20" stroke-width="1.0"/>
<line x1="208.96" y1="206.91" x2="212.16" y2="206.91" stroke="#231f20" stroke-width="1.0"/>
<line x1="208.96" y1="212.11" x2="212.16" y2="212.11" stroke="#231f20" stroke-width="1.0"/>
<polyline points="161.00,198.40 173.39,200.42 185.78,201.94 210.56,209.51 243.60,209.51" fill="none" stroke="#6a3f96" stroke-width="1.0" stroke-linejoin="round"/>
<circle cx="161.00" cy="198.40" r="1.2" fill="#3d1a5c"/>
<circle cx="173.39" cy="200.42" r="1.2" fill="#3d1a5c"/>
<circle cx="185.78" cy="201.94" r="1.2" fill="#3d1a5c"/>
<circle cx="210.56" cy="209.51" r="1.2" fill="#3d1a5c"/>
<circle cx="243.60" cy="209.51" r="1.2" fill="#3d1a5c"/>
<line x1="161.00" y1="194.90" x2="161.00" y2="201.90" stroke="#231f20" stroke-width="1.0"/>
<line x1="159.40" y1="194.90" x2="162.60" y2="194.90" stroke="#231f20" stroke-width="1.0"/>
<line x1="159.40" y1="201.90" x2="162.60" y2="201.90" stroke="#231f20" stroke-width="1.0"/>
<line x1="173.39" y1="227.10" x2="173.39" y2="230.30" stroke="#231f20" stroke-width="1.0"/>
<line x1="171.79" y1="227.10" x2="174.99" y2="227.10" stroke="#231f20" stroke-width="1.0"/>
<line x1="171.79" y1="230.30" x2="174.99" y2="230.30" stroke="#231f20" stroke-width="1.0"/>
<line x1="185.78" y1="229.22" x2="185.78" y2="232.22" stroke="#231f20" stroke-width="1.0"/>
<line x1="184.18" y1="229.22" x2="187.38" y2="229.22" stroke="#231f20" stroke-width="1.0"/>
<line x1="184.18" y1="232.22" x2="187.38" y2="232.22" stroke="#231f20" stroke-width="1.0"/>
<line x1="210.56" y1="230.13" x2="210.56" y2="233.33" stroke="#231f20" stroke-width="1.0"/>
<line x1="208.96" y1="230.13" x2="212.16" y2="230.13" stroke="#231f20" stroke-width="1.0"/>
<line x1="208.96" y1="233.33" x2="212.16" y2="233.33" stroke="#231f20" stroke-width="1.0"/>
<line x1="243.60" y1="232.35" x2="243.60" y2="235.15" stroke="#231f20" stroke-width="1.0"/>
<line x1="242.00" y1="232.35" x2="245.20" y2="232.35" stroke="#231f20" stroke-width="1.0"/>
<line x1="242.00" y1="235.15" x2="245.20" y2="235.15" stroke="#231f20" stroke-width="1.0"/>
<polyline points="161.00,198.40 173.39,228.70 185.78,230.72 210.56,231.73 243.60,233.75" fill="none" stroke="#7a5434" stroke-width="1.0" stroke-linejoin="round"/>
<circle cx="161.00" cy="198.40" r="1.2" fill="#7a5434"/>
<circle cx="173.39" cy="228.70" r="1.2" fill="#7a5434"/>
<circle cx="185.78" cy="230.72" r="1.2" fill="#7a5434"/>
<circle cx="210.56" cy="231.73" r="1.2" fill="#7a5434"/>
<circle cx="243.60" cy="233.75" r="1.2" fill="#7a5434"/>
<line x1="210.56" y1="224.50" x2="210.56" y2="232.90" stroke="#231f20" stroke-width="1.0"/>
<line x1="208.96" y1="224.50" x2="212.16" y2="224.50" stroke="#231f20" stroke-width="1.0"/>
<line x1="208.96" y1="232.90" x2="212.16" y2="232.90" stroke="#231f20" stroke-width="1.0"/>
<line x1="243.60" y1="234.78" x2="243.60" y2="238.78" stroke="#231f20" stroke-width="1.0"/>
<line x1="242.00" y1="234.78" x2="245.20" y2="234.78" stroke="#231f20" stroke-width="1.0"/>
<line x1="242.00" y1="238.78" x2="245.20" y2="238.78" stroke="#231f20" stroke-width="1.0"/>
<polyline points="161.00,198.40 173.39,228.19 185.78,230.22 210.56,228.70 243.60,236.78" fill="none" stroke="#d98a3c" stroke-width="1.0" stroke-linejoin="round"/>
<circle cx="161.00" cy="198.40" r="1.2" fill="#d98a3c"/>
<circle cx="173.39" cy="228.19" r="1.2" fill="#d98a3c"/>
<circle cx="185.78" cy="230.22" r="1.2" fill="#d98a3c"/>
<circle cx="210.56" cy="228.70" r="1.2" fill="#d98a3c"/>
<circle cx="243.60" cy="236.78" r="1.2" fill="#d98a3c"/>
<line x1="185.78" y1="229.52" x2="185.78" y2="231.92" stroke="#231f20" stroke-width="1.0"/>
<line x1="184.18" y1="229.52" x2="187.38" y2="229.52" stroke="#231f20" stroke-width="1.0"/>
<line x1="184.18" y1="231.92" x2="187.38" y2="231.92" stroke="#231f20" stroke-width="1.0"/>
<line x1="243.60" y1="230.33" x2="243.60" y2="233.13" stroke="#231f20" stroke-width="1.0"/>
<line x1="242.00" y1="230.33" x2="245.20" y2="230.33" stroke="#231f20" stroke-width="1.0"/>
<line x1="242.00" y1="233.13" x2="245.20" y2="233.13" stroke="#231f20" stroke-width="1.0"/>
<polyline points="161.00,198.40 173.39,227.19 185.78,230.72 210.56,230.22 243.60,231.73" fill="none" stroke="#f2c01c" stroke-width="1.0" stroke-linejoin="round"/>
<circle cx="161.00" cy="198.40" r="1.2" fill="#d9a010"/>
<circle cx="173.39" cy="227.19" r="1.2" fill="#d9a010"/>
<circle cx="185.78" cy="230.72" r="1.2" fill="#d9a010"/>
<circle cx="210.56" cy="230.22" r="1.2" fill="#d9a010"/>
<circle cx="243.60" cy="231.73" r="1.2" fill="#d9a010"/>
<line x1="309.50" y1="187.30" x2="309.50" y2="249.30" stroke="#2a2a2a" stroke-width="1.4"/>
<line x1="308.80" y1="248.60" x2="397.50" y2="248.60" stroke="#2a2a2a" stroke-width="1.4"/>
<line x1="306.70" y1="248.60" x2="309.50" y2="248.60" stroke="#2a2a2a" stroke-width="0.9"/>
<text x="0" y="2.36" transform="translate(304.10 248.60)" font-size="6.6" text-anchor="end" fill="#231f20" color="#231f20">0.0</text>
<line x1="306.70" y1="238.80" x2="309.50" y2="238.80" stroke="#2a2a2a" stroke-width="0.9"/>
<text x="0" y="2.36" transform="translate(304.10 238.80)" font-size="6.6" text-anchor="end" fill="#231f20" color="#231f20">0.2</text>
<line x1="306.70" y1="229.00" x2="309.50" y2="229.00" stroke="#2a2a2a" stroke-width="0.9"/>
<text x="0" y="2.36" transform="translate(304.10 229.00)" font-size="6.6" text-anchor="end" fill="#231f20" color="#231f20">0.4</text>
<line x1="306.70" y1="219.20" x2="309.50" y2="219.20" stroke="#2a2a2a" stroke-width="0.9"/>
<text x="0" y="2.36" transform="translate(304.10 219.20)" font-size="6.6" text-anchor="end" fill="#231f20" color="#231f20">0.6</text>
<line x1="306.70" y1="209.40" x2="309.50" y2="209.40" stroke="#2a2a2a" stroke-width="0.9"/>
<text x="0" y="2.36" transform="translate(304.10 209.40)" font-size="6.6" text-anchor="end" fill="#231f20" color="#231f20">0.8</text>
<line x1="306.70" y1="199.60" x2="309.50" y2="199.60" stroke="#2a2a2a" stroke-width="0.9"/>
<text x="0" y="2.36" transform="translate(304.10 199.60)" font-size="6.6" text-anchor="end" fill="#231f20" color="#231f20">1.0</text>
<line x1="306.70" y1="189.80" x2="309.50" y2="189.80" stroke="#2a2a2a" stroke-width="0.9"/>
<text x="0" y="2.36" transform="translate(304.10 189.80)" font-size="6.6" text-anchor="end" fill="#231f20" color="#231f20">1.2</text>
<line x1="309.50" y1="248.60" x2="309.50" y2="251.40" stroke="#2a2a2a" stroke-width="0.9"/>
<text x="0" y="2.36" transform="translate(309.50 258.80)" font-size="6.6" text-anchor="middle" fill="#231f20" color="#231f20">0.0</text>
<line x1="326.50" y1="248.60" x2="326.50" y2="251.40" stroke="#2a2a2a" stroke-width="0.9"/>
<text x="0" y="2.36" transform="translate(326.50 258.80)" font-size="6.6" text-anchor="middle" fill="#231f20" color="#231f20">0.5</text>
<line x1="343.50" y1="248.60" x2="343.50" y2="251.40" stroke="#2a2a2a" stroke-width="0.9"/>
<text x="0" y="2.36" transform="translate(343.50 258.80)" font-size="6.6" text-anchor="middle" fill="#231f20" color="#231f20">1.0</text>
<line x1="360.50" y1="248.60" x2="360.50" y2="251.40" stroke="#2a2a2a" stroke-width="0.9"/>
<text x="0" y="2.36" transform="translate(360.50 258.80)" font-size="6.6" text-anchor="middle" fill="#231f20" color="#231f20">1.5</text>
<line x1="377.50" y1="248.60" x2="377.50" y2="251.40" stroke="#2a2a2a" stroke-width="0.9"/>
<text x="0" y="2.36" transform="translate(377.50 258.80)" font-size="6.6" text-anchor="middle" fill="#231f20" color="#231f20">2.0</text>
<line x1="394.50" y1="248.60" x2="394.50" y2="251.40" stroke="#2a2a2a" stroke-width="0.9"/>
<text x="0" y="2.36" transform="translate(394.50 258.80)" font-size="6.6" text-anchor="middle" fill="#231f20" color="#231f20">2.5</text>
<text x="0" y="3.44" transform="translate(353.90 269.60)" font-size="9.6" text-anchor="middle" fill="#231f20" color="#231f20" textLength="46.50" lengthAdjust="spacingAndGlyphs">ABT-199 [µM]</text>
<line x1="394.50" y1="225.13" x2="394.50" y2="229.93" stroke="#231f20" stroke-width="1.0"/>
<line x1="392.90" y1="225.13" x2="396.10" y2="225.13" stroke="#231f20" stroke-width="1.0"/>
<line x1="392.90" y1="229.93" x2="396.10" y2="229.93" stroke="#231f20" stroke-width="1.0"/>
<polyline points="309.50,199.60 343.50,212.83 377.50,221.65 394.50,227.53" fill="none" stroke="#6a3f96" stroke-width="1.0" stroke-linejoin="round"/>
<circle cx="309.50" cy="199.60" r="1.2" fill="#3d1a5c"/>
<circle cx="343.50" cy="212.83" r="1.2" fill="#3d1a5c"/>
<circle cx="377.50" cy="221.65" r="1.2" fill="#3d1a5c"/>
<circle cx="394.50" cy="227.53" r="1.2" fill="#3d1a5c"/>
<line x1="423.10" y1="187.60" x2="423.10" y2="249.30" stroke="#2a2a2a" stroke-width="1.4"/>
<line x1="422.40" y1="248.60" x2="512.00" y2="248.60" stroke="#2a2a2a" stroke-width="1.4"/>
<line x1="420.30" y1="248.60" x2="423.10" y2="248.60" stroke="#2a2a2a" stroke-width="0.9"/>
<text x="0" y="2.36" transform="translate(417.70 248.60)" font-size="6.6" text-anchor="end" fill="#231f20" color="#231f20">0.0</text>
<line x1="420.30" y1="238.85" x2="423.10" y2="238.85" stroke="#2a2a2a" stroke-width="0.9"/>
<text x="0" y="2.36" transform="translate(417.70 238.85)" font-size="6.6" text-anchor="end" fill="#231f20" color="#231f20">0.2</text>
<line x1="420.30" y1="229.10" x2="423.10" y2="229.10" stroke="#2a2a2a" stroke-width="0.9"/>
<text x="0" y="2.36" transform="translate(417.70 229.10)" font-size="6.6" text-anchor="end" fill="#231f20" color="#231f20">0.4</text>
<line x1="420.30" y1="219.35" x2="423.10" y2="219.35" stroke="#2a2a2a" stroke-width="0.9"/>
<text x="0" y="2.36" transform="translate(417.70 219.35)" font-size="6.6" text-anchor="end" fill="#231f20" color="#231f20">0.6</text>
<line x1="420.30" y1="209.60" x2="423.10" y2="209.60" stroke="#2a2a2a" stroke-width="0.9"/>
<text x="0" y="2.36" transform="translate(417.70 209.60)" font-size="6.6" text-anchor="end" fill="#231f20" color="#231f20">0.8</text>
<line x1="420.30" y1="199.85" x2="423.10" y2="199.85" stroke="#2a2a2a" stroke-width="0.9"/>
<text x="0" y="2.36" transform="translate(417.70 199.85)" font-size="6.6" text-anchor="end" fill="#231f20" color="#231f20">1.0</text>
<line x1="420.30" y1="190.10" x2="423.10" y2="190.10" stroke="#2a2a2a" stroke-width="0.9"/>
<text x="0" y="2.36" transform="translate(417.70 190.10)" font-size="6.6" text-anchor="end" fill="#231f20" color="#231f20">1.2</text>
<line x1="423.10" y1="248.60" x2="423.10" y2="251.40" stroke="#2a2a2a" stroke-width="0.9"/>
<text x="0" y="2.36" transform="translate(423.10 258.80)" font-size="6.6" text-anchor="middle" fill="#231f20" color="#231f20">0</text>
<line x1="463.50" y1="248.60" x2="463.50" y2="251.40" stroke="#2a2a2a" stroke-width="0.9"/>
<text x="0" y="2.36" transform="translate(463.50 258.80)" font-size="6.6" text-anchor="middle" fill="#231f20" color="#231f20">500</text>
<line x1="503.90" y1="248.60" x2="503.90" y2="251.40" stroke="#2a2a2a" stroke-width="0.9"/>
<text x="0" y="2.36" transform="translate(503.90 258.80)" font-size="6.6" text-anchor="middle" fill="#231f20" color="#231f20">1000</text>
<text x="0" y="3.44" transform="translate(468.20 269.50)" font-size="9.6" text-anchor="middle" fill="#231f20" color="#231f20" textLength="30.70" lengthAdjust="spacingAndGlyphs">CsA [nM]</text>
<line x1="471.58" y1="207.51" x2="471.58" y2="210.71" stroke="#231f20" stroke-width="1.0"/>
<line x1="469.98" y1="207.51" x2="473.18" y2="207.51" stroke="#231f20" stroke-width="1.0"/>
<line x1="469.98" y1="210.71" x2="473.18" y2="210.71" stroke="#231f20" stroke-width="1.0"/>
<polyline points="423.10,199.85 435.22,204.24 447.34,206.68 471.58,209.11 503.90,212.52" fill="none" stroke="#6a3f96" stroke-width="1.0" stroke-linejoin="round"/>
<circle cx="423.10" cy="199.85" r="1.2" fill="#3d1a5c"/>
<circle cx="435.22" cy="204.24" r="1.2" fill="#3d1a5c"/>
<circle cx="447.34" cy="206.68" r="1.2" fill="#3d1a5c"/>
<circle cx="471.58" cy="209.11" r="1.2" fill="#3d1a5c"/>
<circle cx="503.90" cy="212.52" r="1.2" fill="#3d1a5c"/>
<line x1="447.34" y1="239.97" x2="447.34" y2="243.58" stroke="#231f20" stroke-width="1.0"/>
<line x1="445.74" y1="239.97" x2="448.94" y2="239.97" stroke="#231f20" stroke-width="1.0"/>
<line x1="445.74" y1="243.58" x2="448.94" y2="243.58" stroke="#231f20" stroke-width="1.0"/>
<line x1="471.58" y1="242.50" x2="471.58" y2="246.90" stroke="#231f20" stroke-width="1.0"/>
<line x1="469.98" y1="242.50" x2="473.18" y2="242.50" stroke="#231f20" stroke-width="1.0"/>
<line x1="469.98" y1="246.90" x2="473.18" y2="246.90" stroke="#231f20" stroke-width="1.0"/>
<line x1="503.90" y1="241.15" x2="503.90" y2="244.35" stroke="#231f20" stroke-width="1.0"/>
<line x1="502.30" y1="241.15" x2="505.50" y2="241.15" stroke="#231f20" stroke-width="1.0"/>
<line x1="502.30" y1="244.35" x2="505.50" y2="244.35" stroke="#231f20" stroke-width="1.0"/>
<polyline points="423.10,199.85 435.22,232.51 447.34,241.78 471.58,244.70 503.90,242.75" fill="none" stroke="#d98a3c" stroke-width="1.0" stroke-linejoin="round"/>
<circle cx="423.10" cy="199.85" r="1.2" fill="#d98a3c"/>
<circle cx="435.22" cy="232.51" r="1.2" fill="#d98a3c"/>
<circle cx="447.34" cy="241.78" r="1.2" fill="#d98a3c"/>
<circle cx="471.58" cy="244.70" r="1.2" fill="#d98a3c"/>
<circle cx="503.90" cy="242.75" r="1.2" fill="#d98a3c"/>
<line x1="423.10" y1="196.35" x2="423.10" y2="203.35" stroke="#231f20" stroke-width="1.0"/>
<line x1="421.50" y1="196.35" x2="424.70" y2="196.35" stroke="#231f20" stroke-width="1.0"/>
<line x1="421.50" y1="203.35" x2="424.70" y2="203.35" stroke="#231f20" stroke-width="1.0"/>
<line x1="435.22" y1="229.05" x2="435.22" y2="233.05" stroke="#231f20" stroke-width="1.0"/>
<line x1="433.62" y1="229.05" x2="436.82" y2="229.05" stroke="#231f20" stroke-width="1.0"/>
<line x1="433.62" y1="233.05" x2="436.82" y2="233.05" stroke="#231f20" stroke-width="1.0"/>
<line x1="447.34" y1="236.45" x2="447.34" y2="241.25" stroke="#231f20" stroke-width="1.0"/>
<line x1="445.74" y1="236.45" x2="448.94" y2="236.45" stroke="#231f20" stroke-width="1.0"/>
<line x1="445.74" y1="241.25" x2="448.94" y2="241.25" stroke="#231f20" stroke-width="1.0"/>
<line x1="503.90" y1="237.25" x2="503.90" y2="240.45" stroke="#231f20" stroke-width="1.0"/>
<line x1="502.30" y1="237.25" x2="505.50" y2="237.25" stroke="#231f20" stroke-width="1.0"/>
<line x1="502.30" y1="240.45" x2="505.50" y2="240.45" stroke="#231f20" stroke-width="1.0"/>
<polyline points="423.10,199.85 435.22,231.05 447.34,238.85 471.58,239.34 503.90,238.85" fill="none" stroke="#7a5434" stroke-width="1.0" stroke-linejoin="round"/>
<circle cx="423.10" cy="199.85" r="1.2" fill="#7a5434"/>
<circle cx="435.22" cy="231.05" r="1.2" fill="#7a5434"/>
<circle cx="447.34" cy="238.85" r="1.2" fill="#7a5434"/>
<circle cx="471.58" cy="239.34" r="1.2" fill="#7a5434"/>
<circle cx="503.90" cy="238.85" r="1.2" fill="#7a5434"/>
<line x1="435.22" y1="230.04" x2="435.22" y2="233.04" stroke="#231f20" stroke-width="1.0"/>
<line x1="433.62" y1="230.04" x2="436.82" y2="230.04" stroke="#231f20" stroke-width="1.0"/>
<line x1="433.62" y1="233.04" x2="436.82" y2="233.04" stroke="#231f20" stroke-width="1.0"/>
<line x1="503.90" y1="236.68" x2="503.90" y2="239.07" stroke="#231f20" stroke-width="1.0"/>
<line x1="502.30" y1="236.68" x2="505.50" y2="236.68" stroke="#231f20" stroke-width="1.0"/>
<line x1="502.30" y1="239.07" x2="505.50" y2="239.07" stroke="#231f20" stroke-width="1.0"/>
<polyline points="423.10,199.85 435.22,231.54 447.34,235.44 471.58,236.90 503.90,237.88" fill="none" stroke="#f2c01c" stroke-width="1.0" stroke-linejoin="round"/>
<circle cx="423.10" cy="199.85" r="1.2" fill="#d9a010"/>
<circle cx="435.22" cy="231.54" r="1.2" fill="#d9a010"/>
<circle cx="447.34" cy="235.44" r="1.2" fill="#d9a010"/>
<circle cx="471.58" cy="236.90" r="1.2" fill="#d9a010"/>
<circle cx="503.90" cy="237.88" r="1.2" fill="#d9a010"/>
<line x1="31.80" y1="288.00" x2="38.30" y2="288.00" stroke="#6a3f96" stroke-width="1.1"/>
<circle cx="35.05" cy="288.00" r="1.15" fill="#6a3f96"/>
<text x="0" y="2.29" transform="translate(41.30 288.00)" font-size="6.4" text-anchor="start" fill="#231f20" color="#231f20">Solvent</text>
<line x1="71.30" y1="288.00" x2="77.80" y2="288.00" stroke="#f2c01c" stroke-width="1.1"/>
<circle cx="74.55" cy="288.00" r="1.15" fill="#f2c01c"/>
<text x="0" y="2.29" transform="translate(80.90 288.00)" font-size="6.4" text-anchor="start" fill="#231f20" color="#231f20">0.75 µM ABT-199</text>
<line x1="139.30" y1="288.00" x2="145.80" y2="288.00" stroke="#d98a3c" stroke-width="1.1"/>
<circle cx="142.55" cy="288.00" r="1.15" fill="#d98a3c"/>
<text x="0" y="2.29" transform="translate(148.80 288.00)" font-size="6.4" text-anchor="start" fill="#231f20" color="#231f20">1 µM ABT-199</text>
<line x1="198.80" y1="288.00" x2="205.30" y2="288.00" stroke="#7a5434" stroke-width="1.1"/>
<circle cx="202.05" cy="288.00" r="1.15" fill="#7a5434"/>
<text x="0" y="2.29" transform="translate(208.00 288.00)" font-size="6.4" text-anchor="start" fill="#231f20" color="#231f20">1.5 µM ABT-199</text>
<line x1="298.00" y1="288.00" x2="304.50" y2="288.00" stroke="#6a3f96" stroke-width="1.1"/>
<circle cx="301.25" cy="288.00" r="1.15" fill="#6a3f96"/>
<text x="0" y="2.29" transform="translate(307.50 288.00)" font-size="6.4" text-anchor="start" fill="#231f20" color="#231f20">Solvent</text>
<line x1="338.30" y1="288.00" x2="344.80" y2="288.00" stroke="#f2c01c" stroke-width="1.1"/>
<circle cx="341.55" cy="288.00" r="1.15" fill="#f2c01c"/>
<text x="0" y="2.29" transform="translate(347.00 288.00)" font-size="6.4" text-anchor="start" fill="#231f20" color="#231f20">1 µM ABT-199</text>
<line x1="396.30" y1="288.00" x2="402.80" y2="288.00" stroke="#d98a3c" stroke-width="1.1"/>
<circle cx="399.55" cy="288.00" r="1.15" fill="#d98a3c"/>
<text x="0" y="2.29" transform="translate(405.50 288.00)" font-size="6.4" text-anchor="start" fill="#231f20" color="#231f20">2 µM ABT-199</text>
<line x1="455.50" y1="288.00" x2="462.00" y2="288.00" stroke="#7a5434" stroke-width="1.1"/>
<circle cx="458.75" cy="288.00" r="1.15" fill="#7a5434"/>
<text x="0" y="2.29" transform="translate(465.00 288.00)" font-size="6.4" text-anchor="start" fill="#231f20" color="#231f20">2.5 µM ABT-199</text>
<text x="0" y="3.19" transform="translate(149.10 316.10)" font-size="8.9" text-anchor="middle" fill="#231f20" color="#231f20" textLength="22.30" lengthAdjust="spacingAndGlyphs">HBL-1</text>
<text x="0" y="3.19" transform="translate(411.40 316.00)" font-size="8.9" text-anchor="middle" fill="#231f20" color="#231f20" textLength="24.60" lengthAdjust="spacingAndGlyphs">U2932</text>
<line x1="47.00" y1="323.80" x2="251.60" y2="323.80" stroke="#5a5a5a" stroke-width="2.0"/>
<line x1="309.50" y1="323.80" x2="512.50" y2="323.80" stroke="#5a5a5a" stroke-width="2.0"/>
<text x="0" y="0.00" transform="translate(16.40 364.10) rotate(-90)" font-size="8.2" text-anchor="middle" fill="#231f20" color="#231f20" textLength="60.20" lengthAdjust="spacingAndGlyphs">Norm. absorbance</text>
<text x="0" y="0.00" transform="translate(26.30 362.90) rotate(-90)" font-size="8.2" text-anchor="middle" fill="#231f20" color="#231f20" textLength="37.50" lengthAdjust="spacingAndGlyphs">[490 nm]</text>
<text x="0" y="0.00" transform="translate(277.30 364.40) rotate(-90)" font-size="8.2" text-anchor="middle" fill="#231f20" color="#231f20" textLength="60.20" lengthAdjust="spacingAndGlyphs">Norm. absorbance</text>
<text x="0" y="0.00" transform="translate(287.60 362.90) rotate(-90)" font-size="8.2" text-anchor="middle" fill="#231f20" color="#231f20" textLength="37.50" lengthAdjust="spacingAndGlyphs">[490 nm]</text>
<line x1="46.90" y1="333.30" x2="46.90" y2="396.80" stroke="#2a2a2a" stroke-width="1.4"/>
<line x1="46.20" y1="396.10" x2="137.00" y2="396.10" stroke="#2a2a2a" stroke-width="1.4"/>
<line x1="44.10" y1="396.10" x2="46.90" y2="396.10" stroke="#2a2a2a" stroke-width="0.9"/>
<text x="0" y="2.36" transform="translate(41.50 396.10)" font-size="6.6" text-anchor="end" fill="#231f20" color="#231f20">0.0</text>
<line x1="44.10" y1="386.05" x2="46.90" y2="386.05" stroke="#2a2a2a" stroke-width="0.9"/>
<text x="0" y="2.36" transform="translate(41.50 386.05)" font-size="6.6" text-anchor="end" fill="#231f20" color="#231f20">0.2</text>
<line x1="44.10" y1="376.00" x2="46.90" y2="376.00" stroke="#2a2a2a" stroke-width="0.9"/>
<text x="0" y="2.36" transform="translate(41.50 376.00)" font-size="6.6" text-anchor="end" fill="#231f20" color="#231f20">0.4</text>
<line x1="44.10" y1="365.95" x2="46.90" y2="365.95" stroke="#2a2a2a" stroke-width="0.9"/>
<text x="0" y="2.36" transform="translate(41.50 365.95)" font-size="6.6" text-anchor="end" fill="#231f20" color="#231f20">0.6</text>
<line x1="44.10" y1="355.90" x2="46.90" y2="355.90" stroke="#2a2a2a" stroke-width="0.9"/>
<text x="0" y="2.36" transform="translate(41.50 355.90)" font-size="6.6" text-anchor="end" fill="#231f20" color="#231f20">0.8</text>
<line x1="44.10" y1="345.85" x2="46.90" y2="345.85" stroke="#2a2a2a" stroke-width="0.9"/>
<text x="0" y="2.36" transform="translate(41.50 345.85)" font-size="6.6" text-anchor="end" fill="#231f20" color="#231f20">1.0</text>
<line x1="44.10" y1="335.80" x2="46.90" y2="335.80" stroke="#2a2a2a" stroke-width="0.9"/>
<text x="0" y="2.36" transform="translate(41.50 335.80)" font-size="6.6" text-anchor="end" fill="#231f20" color="#231f20">1.2</text>
<line x1="46.70" y1="396.10" x2="46.70" y2="398.90" stroke="#2a2a2a" stroke-width="0.9"/>
<text x="0" y="2.36" transform="translate(46.70 406.30)" font-size="6.6" text-anchor="middle" fill="#231f20" color="#231f20">0</text>
<line x1="75.77" y1="396.10" x2="75.77" y2="398.90" stroke="#2a2a2a" stroke-width="0.9"/>
<text x="0" y="2.36" transform="translate(75.77 406.30)" font-size="6.6" text-anchor="middle" fill="#231f20" color="#231f20">1</text>
<line x1="104.84" y1="396.10" x2="104.84" y2="398.90" stroke="#2a2a2a" stroke-width="0.9"/>
<text x="0" y="2.36" transform="translate(104.84 406.30)" font-size="6.6" text-anchor="middle" fill="#231f20" color="#231f20">2</text>
<line x1="133.91" y1="396.10" x2="133.91" y2="398.90" stroke="#2a2a2a" stroke-width="0.9"/>
<text x="0" y="2.36" transform="translate(133.91 406.30)" font-size="6.6" text-anchor="middle" fill="#231f20" color="#231f20">3</text>
<text x="0" y="3.44" transform="translate(91.70 417.10)" font-size="9.6" text-anchor="middle" fill="#231f20" color="#231f20" textLength="45.00" lengthAdjust="spacingAndGlyphs">S63845 [µM]</text>
<line x1="68.50" y1="339.93" x2="68.50" y2="344.73" stroke="#231f20" stroke-width="1.0"/>
<line x1="66.90" y1="339.93" x2="70.10" y2="339.93" stroke="#231f20" stroke-width="1.0"/>
<line x1="66.90" y1="344.73" x2="70.10" y2="344.73" stroke="#231f20" stroke-width="1.0"/>
<line x1="90.31" y1="344.35" x2="90.31" y2="348.35" stroke="#231f20" stroke-width="1.0"/>
<line x1="88.71" y1="344.35" x2="91.91" y2="344.35" stroke="#231f20" stroke-width="1.0"/>
<line x1="88.71" y1="348.35" x2="91.91" y2="348.35" stroke="#231f20" stroke-width="1.0"/>
<line x1="133.91" y1="341.64" x2="133.91" y2="346.04" stroke="#231f20" stroke-width="1.0"/>
<line x1="132.31" y1="341.64" x2="135.51" y2="341.64" stroke="#231f20" stroke-width="1.0"/>
<line x1="132.31" y1="346.04" x2="135.51" y2="346.04" stroke="#231f20" stroke-width="1.0"/>
<polyline points="46.70,345.85 68.50,342.33 90.31,346.35 133.91,343.84" fill="none" stroke="#6a3f96" stroke-width="1.0" stroke-linejoin="round"/>
<circle cx="46.70" cy="345.85" r="1.2" fill="#3d1a5c"/>
<circle cx="68.50" cy="342.33" r="1.2" fill="#3d1a5c"/>
<circle cx="90.31" cy="346.35" r="1.2" fill="#3d1a5c"/>
<circle cx="133.91" cy="343.84" r="1.2" fill="#3d1a5c"/>
<line x1="161.20" y1="333.30" x2="161.20" y2="396.80" stroke="#2a2a2a" stroke-width="1.4"/>
<line x1="160.50" y1="396.10" x2="250.80" y2="396.10" stroke="#2a2a2a" stroke-width="1.4"/>
<line x1="158.40" y1="396.10" x2="161.20" y2="396.10" stroke="#2a2a2a" stroke-width="0.9"/>
<text x="0" y="2.36" transform="translate(155.80 396.10)" font-size="6.6" text-anchor="end" fill="#231f20" color="#231f20">0.0</text>
<line x1="158.40" y1="386.05" x2="161.20" y2="386.05" stroke="#2a2a2a" stroke-width="0.9"/>
<text x="0" y="2.36" transform="translate(155.80 386.05)" font-size="6.6" text-anchor="end" fill="#231f20" color="#231f20">0.2</text>
<line x1="158.40" y1="376.00" x2="161.20" y2="376.00" stroke="#2a2a2a" stroke-width="0.9"/>
<text x="0" y="2.36" transform="translate(155.80 376.00)" font-size="6.6" text-anchor="end" fill="#231f20" color="#231f20">0.4</text>
<line x1="158.40" y1="365.95" x2="161.20" y2="365.95" stroke="#2a2a2a" stroke-width="0.9"/>
<text x="0" y="2.36" transform="translate(155.80 365.95)" font-size="6.6" text-anchor="end" fill="#231f20" color="#231f20">0.6</text>
<line x1="158.40" y1="355.90" x2="161.20" y2="355.90" stroke="#2a2a2a" stroke-width="0.9"/>
<text x="0" y="2.36" transform="translate(155.80 355.90)" font-size="6.6" text-anchor="end" fill="#231f20" color="#231f20">0.8</text>
<line x1="158.40" y1="345.85" x2="161.20" y2="345.85" stroke="#2a2a2a" stroke-width="0.9"/>
<text x="0" y="2.36" transform="translate(155.80 345.85)" font-size="6.6" text-anchor="end" fill="#231f20" color="#231f20">1.0</text>
<line x1="158.40" y1="335.80" x2="161.20" y2="335.80" stroke="#2a2a2a" stroke-width="0.9"/>
<text x="0" y="2.36" transform="translate(155.80 335.80)" font-size="6.6" text-anchor="end" fill="#231f20" color="#231f20">1.2</text>
<line x1="161.00" y1="396.10" x2="161.00" y2="398.90" stroke="#2a2a2a" stroke-width="0.9"/>
<text x="0" y="2.36" transform="translate(161.00 406.30)" font-size="6.6" text-anchor="middle" fill="#231f20" color="#231f20">0</text>
<line x1="202.30" y1="396.10" x2="202.30" y2="398.90" stroke="#2a2a2a" stroke-width="0.9"/>
<text x="0" y="2.36" transform="translate(202.30 406.30)" font-size="6.6" text-anchor="middle" fill="#231f20" color="#231f20">500</text>
<line x1="243.60" y1="396.10" x2="243.60" y2="398.90" stroke="#2a2a2a" stroke-width="0.9"/>
<text x="0" y="2.36" transform="translate(243.60 406.30)" font-size="6.6" text-anchor="middle" fill="#231f20" color="#231f20">1000</text>
<text x="0" y="3.44" transform="translate(206.10 417.10)" font-size="9.6" text-anchor="middle" fill="#231f20" color="#231f20" textLength="29.50" lengthAdjust="spacingAndGlyphs">CsA [nM]</text>
<line x1="161.00" y1="342.85" x2="161.00" y2="348.85" stroke="#231f20" stroke-width="1.0"/>
<line x1="159.40" y1="342.85" x2="162.60" y2="342.85" stroke="#231f20" stroke-width="1.0"/>
<line x1="159.40" y1="348.85" x2="162.60" y2="348.85" stroke="#231f20" stroke-width="1.0"/>
<line x1="173.39" y1="346.06" x2="173.39" y2="349.66" stroke="#231f20" stroke-width="1.0"/>
<line x1="171.79" y1="346.06" x2="174.99" y2="346.06" stroke="#231f20" stroke-width="1.0"/>
<line x1="171.79" y1="349.66" x2="174.99" y2="349.66" stroke="#231f20" stroke-width="1.0"/>
<line x1="185.78" y1="347.17" x2="185.78" y2="351.57" stroke="#231f20" stroke-width="1.0"/>
<line x1="184.18" y1="347.17" x2="187.38" y2="347.17" stroke="#231f20" stroke-width="1.0"/>
<line x1="184.18" y1="351.57" x2="187.38" y2="351.57" stroke="#231f20" stroke-width="1.0"/>
<polyline points="161.00,345.85 173.39,347.86 185.78,349.37 210.56,351.88 243.60,351.88" fill="none" stroke="#6a3f96" stroke-width="1.0" stroke-linejoin="round"/>
<circle cx="161.00" cy="345.85" r="1.2" fill="#3d1a5c"/>
<circle cx="173.39" cy="347.86" r="1.2" fill="#3d1a5c"/>
<circle cx="185.78" cy="349.37" r="1.2" fill="#3d1a5c"/>
<circle cx="210.56" cy="351.88" r="1.2" fill="#3d1a5c"/>
<circle cx="243.60" cy="351.88" r="1.2" fill="#3d1a5c"/>
<line x1="173.39" y1="362.95" x2="173.39" y2="366.95" stroke="#231f20" stroke-width="1.0"/>
<line x1="171.79" y1="362.95" x2="174.99" y2="362.95" stroke="#231f20" stroke-width="1.0"/>
<line x1="171.79" y1="366.95" x2="174.99" y2="366.95" stroke="#231f20" stroke-width="1.0"/>
<line x1="185.78" y1="366.36" x2="185.78" y2="369.56" stroke="#231f20" stroke-width="1.0"/>
<line x1="184.18" y1="366.36" x2="187.38" y2="366.36" stroke="#231f20" stroke-width="1.0"/>
<line x1="184.18" y1="369.56" x2="187.38" y2="369.56" stroke="#231f20" stroke-width="1.0"/>
<polyline points="161.00,345.85 173.39,364.95 185.78,367.96 210.56,368.46 243.60,370.47" fill="none" stroke="#d98a3c" stroke-width="1.0" stroke-linejoin="round"/>
<circle cx="161.00" cy="345.85" r="1.2" fill="#d98a3c"/>
<circle cx="173.39" cy="364.95" r="1.2" fill="#d98a3c"/>
<circle cx="185.78" cy="367.96" r="1.2" fill="#d98a3c"/>
<circle cx="210.56" cy="368.46" r="1.2" fill="#d98a3c"/>
<circle cx="243.60" cy="370.47" r="1.2" fill="#d98a3c"/>
<line x1="173.39" y1="361.84" x2="173.39" y2="365.04" stroke="#231f20" stroke-width="1.0"/>
<line x1="171.79" y1="361.84" x2="174.99" y2="361.84" stroke="#231f20" stroke-width="1.0"/>
<line x1="171.79" y1="365.04" x2="174.99" y2="365.04" stroke="#231f20" stroke-width="1.0"/>
<line x1="185.78" y1="367.67" x2="185.78" y2="371.27" stroke="#231f20" stroke-width="1.0"/>
<line x1="184.18" y1="367.67" x2="187.38" y2="367.67" stroke="#231f20" stroke-width="1.0"/>
<line x1="184.18" y1="371.27" x2="187.38" y2="371.27" stroke="#231f20" stroke-width="1.0"/>
<polyline points="161.00,345.85 173.39,363.44 185.78,369.47 210.56,372.48 243.60,373.49" fill="none" stroke="#7a5434" stroke-width="1.0" stroke-linejoin="round"/>
<circle cx="161.00" cy="345.85" r="1.2" fill="#7a5434"/>
<circle cx="173.39" cy="363.44" r="1.2" fill="#7a5434"/>
<circle cx="185.78" cy="369.47" r="1.2" fill="#7a5434"/>
<circle cx="210.56" cy="372.48" r="1.2" fill="#7a5434"/>
<circle cx="243.60" cy="373.49" r="1.2" fill="#7a5434"/>
<line x1="173.39" y1="354.80" x2="173.39" y2="358.00" stroke="#231f20" stroke-width="1.0"/>
<line x1="171.79" y1="354.80" x2="174.99" y2="354.80" stroke="#231f20" stroke-width="1.0"/>
<line x1="171.79" y1="358.00" x2="174.99" y2="358.00" stroke="#231f20" stroke-width="1.0"/>
<line x1="243.60" y1="362.15" x2="243.60" y2="367.75" stroke="#231f20" stroke-width="1.0"/>
<line x1="242.00" y1="362.15" x2="245.20" y2="362.15" stroke="#231f20" stroke-width="1.0"/>
<line x1="242.00" y1="367.75" x2="245.20" y2="367.75" stroke="#231f20" stroke-width="1.0"/>
<polyline points="161.00,345.85 173.39,356.40 185.78,360.93 210.56,364.95 243.60,364.95" fill="none" stroke="#f2c01c" stroke-width="1.0" stroke-linejoin="round"/>
<circle cx="161.00" cy="345.85" r="1.2" fill="#d9a010"/>
<circle cx="173.39" cy="356.40" r="1.2" fill="#d9a010"/>
<circle cx="185.78" cy="360.93" r="1.2" fill="#d9a010"/>
<circle cx="210.56" cy="364.95" r="1.2" fill="#d9a010"/>
<circle cx="243.60" cy="364.95" r="1.2" fill="#d9a010"/>
<line x1="309.60" y1="333.30" x2="309.60" y2="396.80" stroke="#2a2a2a" stroke-width="1.4"/>
<line x1="308.90" y1="396.10" x2="400.00" y2="396.10" stroke="#2a2a2a" stroke-width="1.4"/>
<line x1="306.80" y1="396.10" x2="309.60" y2="396.10" stroke="#2a2a2a" stroke-width="0.9"/>
<text x="0" y="2.36" transform="translate(304.20 396.10)" font-size="6.6" text-anchor="end" fill="#231f20" color="#231f20">0.0</text>
<line x1="306.80" y1="386.05" x2="309.60" y2="386.05" stroke="#2a2a2a" stroke-width="0.9"/>
<text x="0" y="2.36" transform="translate(304.20 386.05)" font-size="6.6" text-anchor="end" fill="#231f20" color="#231f20">0.2</text>
<line x1="306.80" y1="376.00" x2="309.60" y2="376.00" stroke="#2a2a2a" stroke-width="0.9"/>
<text x="0" y="2.36" transform="translate(304.20 376.00)" font-size="6.6" text-anchor="end" fill="#231f20" color="#231f20">0.4</text>
<line x1="306.80" y1="365.95" x2="309.60" y2="365.95" stroke="#2a2a2a" stroke-width="0.9"/>
<text x="0" y="2.36" transform="translate(304.20 365.95)" font-size="6.6" text-anchor="end" fill="#231f20" color="#231f20">0.6</text>
<line x1="306.80" y1="355.90" x2="309.60" y2="355.90" stroke="#2a2a2a" stroke-width="0.9"/>
<text x="0" y="2.36" transform="translate(304.20 355.90)" font-size="6.6" text-anchor="end" fill="#231f20" color="#231f20">0.8</text>
<line x1="306.80" y1="345.85" x2="309.60" y2="345.85" stroke="#2a2a2a" stroke-width="0.9"/>
<text x="0" y="2.36" transform="translate(304.20 345.85)" font-size="6.6" text-anchor="end" fill="#231f20" color="#231f20">1.0</text>
<line x1="306.80" y1="335.80" x2="309.60" y2="335.80" stroke="#2a2a2a" stroke-width="0.9"/>
<text x="0" y="2.36" transform="translate(304.20 335.80)" font-size="6.6" text-anchor="end" fill="#231f20" color="#231f20">1.2</text>
<line x1="309.50" y1="396.10" x2="309.50" y2="398.90" stroke="#2a2a2a" stroke-width="0.9"/>
<text x="0" y="2.36" transform="translate(309.50 406.30)" font-size="6.6" text-anchor="middle" fill="#231f20" color="#231f20">0.0</text>
<line x1="324.00" y1="396.10" x2="324.00" y2="398.90" stroke="#2a2a2a" stroke-width="0.9"/>
<text x="0" y="2.36" transform="translate(324.00 406.30)" font-size="6.6" text-anchor="middle" fill="#231f20" color="#231f20">0.5</text>
<line x1="338.50" y1="396.10" x2="338.50" y2="398.90" stroke="#2a2a2a" stroke-width="0.9"/>
<text x="0" y="2.36" transform="translate(338.50 406.30)" font-size="6.6" text-anchor="middle" fill="#231f20" color="#231f20">1.0</text>
<line x1="353.00" y1="396.10" x2="353.00" y2="398.90" stroke="#2a2a2a" stroke-width="0.9"/>
<text x="0" y="2.36" transform="translate(353.00 406.30)" font-size="6.6" text-anchor="middle" fill="#231f20" color="#231f20">1.5</text>
<line x1="367.50" y1="396.10" x2="367.50" y2="398.90" stroke="#2a2a2a" stroke-width="0.9"/>
<text x="0" y="2.36" transform="translate(367.50 406.30)" font-size="6.6" text-anchor="middle" fill="#231f20" color="#231f20">2.0</text>
<line x1="382.00" y1="396.10" x2="382.00" y2="398.90" stroke="#2a2a2a" stroke-width="0.9"/>
<text x="0" y="2.36" transform="translate(382.00 406.30)" font-size="6.6" text-anchor="middle" fill="#231f20" color="#231f20">2.5</text>
<line x1="396.50" y1="396.10" x2="396.50" y2="398.90" stroke="#2a2a2a" stroke-width="0.9"/>
<text x="0" y="2.36" transform="translate(396.50 406.30)" font-size="6.6" text-anchor="middle" fill="#231f20" color="#231f20">3.0</text>
<text x="0" y="3.44" transform="translate(354.90 417.10)" font-size="9.6" text-anchor="middle" fill="#231f20" color="#231f20" textLength="45.60" lengthAdjust="spacingAndGlyphs">S63845 [µM]</text>
<line x1="353.00" y1="349.38" x2="353.00" y2="353.38" stroke="#231f20" stroke-width="1.0"/>
<line x1="351.40" y1="349.38" x2="354.60" y2="349.38" stroke="#231f20" stroke-width="1.0"/>
<line x1="351.40" y1="353.38" x2="354.60" y2="353.38" stroke="#231f20" stroke-width="1.0"/>
<line x1="396.50" y1="349.98" x2="396.50" y2="352.78" stroke="#231f20" stroke-width="1.0"/>
<line x1="394.90" y1="349.98" x2="398.10" y2="349.98" stroke="#231f20" stroke-width="1.0"/>
<line x1="394.90" y1="352.78" x2="398.10" y2="352.78" stroke="#231f20" stroke-width="1.0"/>
<polyline points="309.50,345.85 331.25,351.88 353.00,351.38 396.50,351.38" fill="none" stroke="#6a3f96" stroke-width="1.0" stroke-linejoin="round"/>
<circle cx="309.50" cy="345.85" r="1.2" fill="#3d1a5c"/>
<circle cx="331.25" cy="351.88" r="1.2" fill="#3d1a5c"/>
<circle cx="353.00" cy="351.38" r="1.2" fill="#3d1a5c"/>
<circle cx="396.50" cy="351.38" r="1.2" fill="#3d1a5c"/>
<line x1="423.10" y1="333.60" x2="423.10" y2="396.80" stroke="#2a2a2a" stroke-width="1.4"/>
<line x1="422.40" y1="396.10" x2="512.00" y2="396.10" stroke="#2a2a2a" stroke-width="1.4"/>
<line x1="420.30" y1="396.10" x2="423.10" y2="396.10" stroke="#2a2a2a" stroke-width="0.9"/>
<text x="0" y="2.36" transform="translate(417.70 396.10)" font-size="6.6" text-anchor="end" fill="#231f20" color="#231f20">0.0</text>
<line x1="420.30" y1="386.10" x2="423.10" y2="386.10" stroke="#2a2a2a" stroke-width="0.9"/>
<text x="0" y="2.36" transform="translate(417.70 386.10)" font-size="6.6" text-anchor="end" fill="#231f20" color="#231f20">0.2</text>
<line x1="420.30" y1="376.10" x2="423.10" y2="376.10" stroke="#2a2a2a" stroke-width="0.9"/>
<text x="0" y="2.36" transform="translate(417.70 376.10)" font-size="6.6" text-anchor="end" fill="#231f20" color="#231f20">0.4</text>
<line x1="420.30" y1="366.10" x2="423.10" y2="366.10" stroke="#2a2a2a" stroke-width="0.9"/>
<text x="0" y="2.36" transform="translate(417.70 366.10)" font-size="6.6" text-anchor="end" fill="#231f20" color="#231f20">0.6</text>
<line x1="420.30" y1="356.10" x2="423.10" y2="356.10" stroke="#2a2a2a" stroke-width="0.9"/>
<text x="0" y="2.36" transform="translate(417.70 356.10)" font-size="6.6" text-anchor="end" fill="#231f20" color="#231f20">0.8</text>
<line x1="420.30" y1="346.10" x2="423.10" y2="346.10" stroke="#2a2a2a" stroke-width="0.9"/>
<text x="0" y="2.36" transform="translate(417.70 346.10)" font-size="6.6" text-anchor="end" fill="#231f20" color="#231f20">1.0</text>
<line x1="420.30" y1="336.10" x2="423.10" y2="336.10" stroke="#2a2a2a" stroke-width="0.9"/>
<text x="0" y="2.36" transform="translate(417.70 336.10)" font-size="6.6" text-anchor="end" fill="#231f20" color="#231f20">1.2</text>
<line x1="423.10" y1="396.10" x2="423.10" y2="398.90" stroke="#2a2a2a" stroke-width="0.9"/>
<text x="0" y="2.36" transform="translate(423.10 406.30)" font-size="6.6" text-anchor="middle" fill="#231f20" color="#231f20">0</text>
<line x1="463.50" y1="396.10" x2="463.50" y2="398.90" stroke="#2a2a2a" stroke-width="0.9"/>
<text x="0" y="2.36" transform="translate(463.50 406.30)" font-size="6.6" text-anchor="middle" fill="#231f20" color="#231f20">500</text>
<line x1="503.90" y1="396.10" x2="503.90" y2="398.90" stroke="#2a2a2a" stroke-width="0.9"/>
<text x="0" y="2.36" transform="translate(503.90 406.30)" font-size="6.6" text-anchor="middle" fill="#231f20" color="#231f20">1000</text>
<text x="0" y="3.44" transform="translate(468.20 417.10)" font-size="9.6" text-anchor="middle" fill="#231f20" color="#231f20" textLength="30.70" lengthAdjust="spacingAndGlyphs">CsA [nM]</text>
<line x1="423.10" y1="343.60" x2="423.10" y2="348.60" stroke="#231f20" stroke-width="1.0"/>
<line x1="421.50" y1="343.60" x2="424.70" y2="343.60" stroke="#231f20" stroke-width="1.0"/>
<line x1="421.50" y1="348.60" x2="424.70" y2="348.60" stroke="#231f20" stroke-width="1.0"/>
<line x1="447.34" y1="351.50" x2="447.34" y2="354.70" stroke="#231f20" stroke-width="1.0"/>
<line x1="445.74" y1="351.50" x2="448.94" y2="351.50" stroke="#231f20" stroke-width="1.0"/>
<line x1="445.74" y1="354.70" x2="448.94" y2="354.70" stroke="#231f20" stroke-width="1.0"/>
<line x1="503.90" y1="352.10" x2="503.90" y2="356.10" stroke="#231f20" stroke-width="1.0"/>
<line x1="502.30" y1="352.10" x2="505.50" y2="352.10" stroke="#231f20" stroke-width="1.0"/>
<line x1="502.30" y1="356.10" x2="505.50" y2="356.10" stroke="#231f20" stroke-width="1.0"/>
<polyline points="423.10,346.10 435.22,348.10 447.34,353.10 471.58,352.60 503.90,354.10" fill="none" stroke="#6a3f96" stroke-width="1.0" stroke-linejoin="round"/>
<circle cx="423.10" cy="346.10" r="1.2" fill="#3d1a5c"/>
<circle cx="435.22" cy="348.10" r="1.2" fill="#3d1a5c"/>
<circle cx="447.34" cy="353.10" r="1.2" fill="#3d1a5c"/>
<circle cx="471.58" cy="352.60" r="1.2" fill="#3d1a5c"/>
<circle cx="503.90" cy="354.10" r="1.2" fill="#3d1a5c"/>
<line x1="435.22" y1="366.60" x2="435.22" y2="370.60" stroke="#231f20" stroke-width="1.0"/>
<line x1="433.62" y1="366.60" x2="436.82" y2="366.60" stroke="#231f20" stroke-width="1.0"/>
<line x1="433.62" y1="370.60" x2="436.82" y2="370.60" stroke="#231f20" stroke-width="1.0"/>
<line x1="447.34" y1="372.50" x2="447.34" y2="377.70" stroke="#231f20" stroke-width="1.0"/>
<line x1="445.74" y1="372.50" x2="448.94" y2="372.50" stroke="#231f20" stroke-width="1.0"/>
<line x1="445.74" y1="377.70" x2="448.94" y2="377.70" stroke="#231f20" stroke-width="1.0"/>
<line x1="471.58" y1="374.30" x2="471.58" y2="377.90" stroke="#231f20" stroke-width="1.0"/>
<line x1="469.98" y1="374.30" x2="473.18" y2="374.30" stroke="#231f20" stroke-width="1.0"/>
<line x1="469.98" y1="377.90" x2="473.18" y2="377.90" stroke="#231f20" stroke-width="1.0"/>
<polyline points="423.10,346.10 435.22,368.60 447.34,375.10 471.58,376.10 503.90,376.60" fill="none" stroke="#d98a3c" stroke-width="1.0" stroke-linejoin="round"/>
<circle cx="423.10" cy="346.10" r="1.2" fill="#d98a3c"/>
<circle cx="435.22" cy="368.60" r="1.2" fill="#d98a3c"/>
<circle cx="447.34" cy="375.10" r="1.2" fill="#d98a3c"/>
<circle cx="471.58" cy="376.10" r="1.2" fill="#d98a3c"/>
<circle cx="503.90" cy="376.60" r="1.2" fill="#d98a3c"/>
<line x1="435.22" y1="372.40" x2="435.22" y2="376.80" stroke="#231f20" stroke-width="1.0"/>
<line x1="433.62" y1="372.40" x2="436.82" y2="372.40" stroke="#231f20" stroke-width="1.0"/>
<line x1="433.62" y1="376.80" x2="436.82" y2="376.80" stroke="#231f20" stroke-width="1.0"/>
<line x1="471.58" y1="381.00" x2="471.58" y2="386.20" stroke="#231f20" stroke-width="1.0"/>
<line x1="469.98" y1="381.00" x2="473.18" y2="381.00" stroke="#231f20" stroke-width="1.0"/>
<line x1="469.98" y1="386.20" x2="473.18" y2="386.20" stroke="#231f20" stroke-width="1.0"/>
<polyline points="423.10,346.10 435.22,374.60 447.34,380.60 471.58,383.60 503.90,384.10" fill="none" stroke="#7a5434" stroke-width="1.0" stroke-linejoin="round"/>
<circle cx="423.10" cy="346.10" r="1.2" fill="#7a5434"/>
<circle cx="435.22" cy="374.60" r="1.2" fill="#7a5434"/>
<circle cx="447.34" cy="380.60" r="1.2" fill="#7a5434"/>
<circle cx="471.58" cy="383.60" r="1.2" fill="#7a5434"/>
<circle cx="503.90" cy="384.10" r="1.2" fill="#7a5434"/>
<line x1="471.58" y1="359.70" x2="471.58" y2="366.50" stroke="#231f20" stroke-width="1.0"/>
<line x1="469.98" y1="359.70" x2="473.18" y2="359.70" stroke="#231f20" stroke-width="1.0"/>
<line x1="469.98" y1="366.50" x2="473.18" y2="366.50" stroke="#231f20" stroke-width="1.0"/>
<line x1="503.90" y1="359.80" x2="503.90" y2="363.40" stroke="#231f20" stroke-width="1.0"/>
<line x1="502.30" y1="359.80" x2="505.50" y2="359.80" stroke="#231f20" stroke-width="1.0"/>
<line x1="502.30" y1="363.40" x2="505.50" y2="363.40" stroke="#231f20" stroke-width="1.0"/>
<polyline points="423.10,346.10 435.22,353.60 447.34,358.10 471.58,363.10 503.90,361.60" fill="none" stroke="#f2c01c" stroke-width="1.0" stroke-linejoin="round"/>
<circle cx="423.10" cy="346.10" r="1.2" fill="#d9a010"/>
<circle cx="435.22" cy="353.60" r="1.2" fill="#d9a010"/>
<circle cx="447.34" cy="358.10" r="1.2" fill="#d9a010"/>
<circle cx="471.58" cy="363.10" r="1.2" fill="#d9a010"/>
<circle cx="503.90" cy="361.60" r="1.2" fill="#d9a010"/>
<line x1="35.80" y1="435.50" x2="42.30" y2="435.50" stroke="#6a3f96" stroke-width="1.1"/>
<circle cx="39.05" cy="435.50" r="1.15" fill="#6a3f96"/>
<text x="0" y="2.29" transform="translate(45.00 435.50)" font-size="6.4" text-anchor="start" fill="#231f20" color="#231f20">Solvent</text>
<line x1="75.50" y1="435.50" x2="82.00" y2="435.50" stroke="#f2c01c" stroke-width="1.1"/>
<circle cx="78.75" cy="435.50" r="1.15" fill="#f2c01c"/>
<text x="0" y="2.29" transform="translate(85.00 435.50)" font-size="6.4" text-anchor="start" fill="#231f20" color="#231f20">0.75 µM S63845</text>
<line x1="141.50" y1="435.50" x2="148.00" y2="435.50" stroke="#d98a3c" stroke-width="1.1"/>
<circle cx="144.75" cy="435.50" r="1.15" fill="#d98a3c"/>
<text x="0" y="2.29" transform="translate(151.30 435.50)" font-size="6.4" text-anchor="start" fill="#231f20" color="#231f20">1.5 µM S63845</text>
<line x1="202.80" y1="435.50" x2="209.30" y2="435.50" stroke="#7a5434" stroke-width="1.1"/>
<circle cx="206.05" cy="435.50" r="1.15" fill="#7a5434"/>
<text x="0" y="2.29" transform="translate(212.00 435.50)" font-size="6.4" text-anchor="start" fill="#231f20" color="#231f20">3 µM S63845</text>
<line x1="298.00" y1="435.50" x2="304.50" y2="435.50" stroke="#6a3f96" stroke-width="1.1"/>
<circle cx="301.25" cy="435.50" r="1.15" fill="#6a3f96"/>
<text x="0" y="2.29" transform="translate(307.50 435.50)" font-size="6.4" text-anchor="start" fill="#231f20" color="#231f20">Solvent</text>
<line x1="338.00" y1="435.50" x2="344.50" y2="435.50" stroke="#f2c01c" stroke-width="1.1"/>
<circle cx="341.25" cy="435.50" r="1.15" fill="#f2c01c"/>
<text x="0" y="2.29" transform="translate(347.00 435.50)" font-size="6.4" text-anchor="start" fill="#231f20" color="#231f20">0.75 µM S63845</text>
<line x1="403.30" y1="435.50" x2="409.80" y2="435.50" stroke="#d98a3c" stroke-width="1.1"/>
<circle cx="406.55" cy="435.50" r="1.15" fill="#d98a3c"/>
<text x="0" y="2.29" transform="translate(412.50 435.50)" font-size="6.4" text-anchor="start" fill="#231f20" color="#231f20">1.5 µM S63845</text>
<line x1="464.80" y1="435.50" x2="471.30" y2="435.50" stroke="#7a5434" stroke-width="1.1"/>
<circle cx="468.05" cy="435.50" r="1.15" fill="#7a5434"/>
<text x="0" y="2.29" transform="translate(473.80 435.50)" font-size="6.4" text-anchor="start" fill="#231f20" color="#231f20">3 µM S63845</text>
<rect x="0.5" y="0.5" width="519" height="445" fill="none" stroke="#000" stroke-width="1.05"/>
</svg>
</body></html>
